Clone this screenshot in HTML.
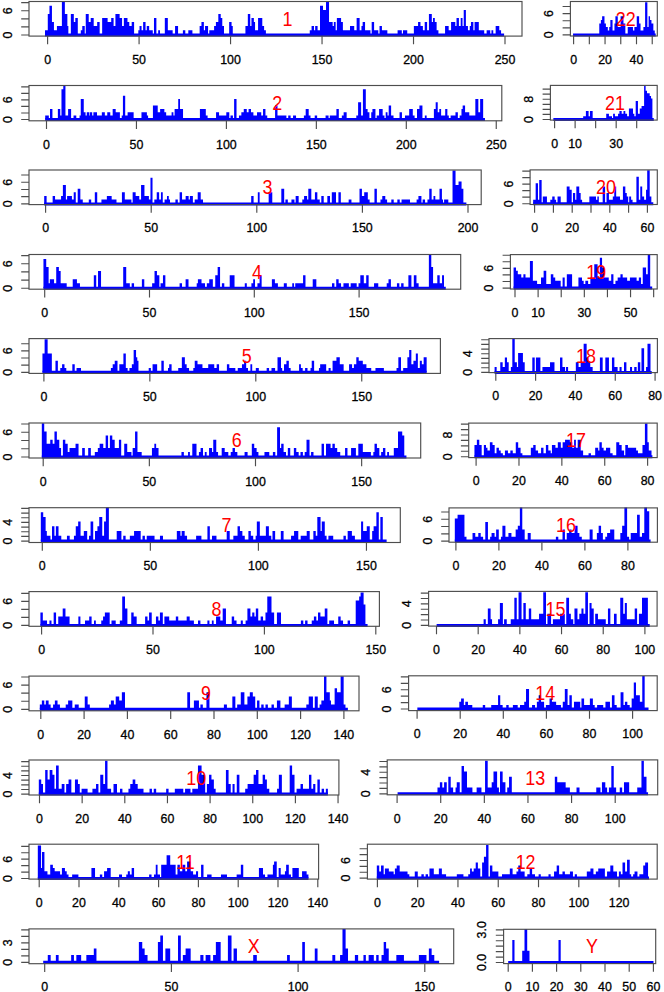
<!DOCTYPE html>
<html><head><meta charset="utf-8"><style>
html,body{margin:0;padding:0;background:#fff;}
svg{display:block;}
text{font-family:"Liberation Sans",sans-serif;font-size:12.4px;fill:#000;stroke:#000;stroke-width:0.3px;}
text.r{font-size:19.5px;fill:#ff0000;stroke:none;}
</style></head><body>
<svg width="664" height="992" viewBox="0 0 664 992">
<rect width="664" height="992" fill="#fff"/>
<g >
<g><path d="M44.99 35H47.78V30.15H44.99ZM47.78 35H49.47V13.95H47.78ZM49.47 35H51.95V5.85H49.47ZM51.95 35H53.94V22.05H51.95ZM53.94 35H56.92V30.15H53.94ZM56.92 35H61.89V26.1H56.92ZM61.89 35H64.87V1.8H61.89ZM64.87 35H67.36V13.95H64.87ZM67.36 35H68.35V26.1H67.36ZM70.84 35H73.82V13.95H70.84ZM73.82 35H75.31V22.05H73.82ZM75.31 35H77.8V18H75.31ZM80.78 35H82.27V30.15H80.78ZM82.27 35H84.75V26.1H82.27ZM85.75 35H88.73V13.95H85.75ZM88.73 35H90.72V22.05H88.73ZM90.72 35H93.7V18H90.72ZM93.7 35H97.18V26.1H93.7ZM97.18 35H99.66V22.05H97.18ZM102.15 35H107.61V18H102.15ZM107.61 35H110V22.05H107.61ZM110 35H111.2V22.05H110ZM111.2 35H113.61V18H111.2ZM113.61 35H115.42V26.1H113.61ZM115.42 35H119.64V13.95H115.42ZM119.64 35H122.05V18H119.64ZM122.05 35H123.86V26.1H122.05ZM123.86 35H127.47V18H123.86ZM127.47 35H129.28V22.05H127.47ZM129.28 35H131.69V26.1H129.28ZM131.69 35H134.1V22.05H131.69ZM138.31 35H139.52V30.15H138.31ZM139.52 35H141.57V26.1H139.52ZM141.57 35H143.13V30.15H141.57ZM143.13 35H145.54V22.05H143.13ZM145.54 35H146.75V30.15H145.54ZM146.75 35H149.16V26.1H146.75ZM149.16 35H150.36V30.15H149.16ZM150.36 35H152.77V30.15H150.36ZM153.98 35H156.39V18H153.98ZM158.19 35H160V30.15H158.19ZM164.82 35H167.83V18H164.82ZM167.83 35H170.24V30.15H167.83ZM170.24 35H172.65V30.15H170.24ZM175.06 35H178.07V26.1H175.06ZM182.89 35H185.3V30.15H182.89ZM188.31 35H190V30.15H188.31ZM190 35H192.41V30.15H190ZM199.64 35H201.45V26.1H199.64ZM201.45 35H203.86V22.05H201.45ZM203.86 35H205.06V30.15H203.86ZM205.06 35H208.07V26.1H205.06ZM209.28 35H214.1V30.15H209.28ZM214.1 35H215.9V26.1H214.1ZM215.9 35H218.31V22.05H215.9ZM218.31 35H220.72V13.95H218.31ZM220.72 35H222.29V18H220.72ZM222.29 35H223.98V26.1H222.29ZM229.16 35H231.57V22.05H229.16ZM231.57 35H232.77V26.1H231.57ZM245.42 35H247.83V26.1H245.42ZM247.83 35H250.24V13.95H247.83ZM250.24 35H251.45V26.1H250.24ZM251.45 35H253.86V18H251.45ZM253.86 35H255.06V22.05H253.86ZM255.06 35H258.07V30.15H255.06ZM258.07 35H262.29V18H258.07ZM262.29 35H264.1V26.1H262.29ZM264.1 35H265.9V30.15H264.1ZM309.76 35H311.57V30.15H309.76ZM311.57 35H313.98V26.1H311.57ZM313.98 35H315.18V30.15H313.98ZM315.18 35H317.59V26.1H315.18ZM317.59 35H320V30.15H317.59ZM320 35H323.01V5.85H320ZM323.01 35H324.82V9.9H323.01ZM324.82 35H326.02V9.9H324.82ZM326.02 35H329.04V1.8H326.02ZM329.04 35H330.24V22.05H329.04ZM330.24 35H332.65V22.05H330.24ZM332.65 35H333.86V26.1H332.65ZM333.86 35H335.66V22.05H333.86ZM335.66 35H336.87V30.15H335.66ZM336.87 35H341.08V18H336.87ZM341.08 35H342.89V22.05H341.08ZM342.89 35H344.7V30.15H342.89ZM344.7 35H347.11V30.15H344.7ZM347.11 35H350V30.15H347.11ZM350 35H354.22V26.1H350ZM354.22 35H356.63V30.15H354.22ZM356.63 35H359.64V18H356.63ZM359.64 35H361.45V30.15H359.64ZM361.45 35H362.65V26.1H361.45ZM362.65 35H365.06V22.05H362.65ZM365.06 35H368.07V30.15H365.06ZM368.07 35H370.48V30.15H368.07ZM371.69 35H374.1V22.05H371.69ZM374.1 35H375.3V30.15H374.1ZM375.3 35H378.31V30.15H375.3ZM379.52 35H381.93V26.1H379.52ZM381.93 35H383.13V30.15H381.93ZM383.13 35H387.35V30.15H383.13ZM397.59 35H401.81V30.15H397.59ZM403.01 35H407.23V30.15H403.01ZM413.86 35H418.07V26.1H413.86ZM418.07 35H420.48V22.05H418.07ZM420.48 35H422.89V26.1H420.48ZM422.89 35H424.7V30.15H422.89ZM424.7 35H427.11V22.05H424.7ZM427.11 35H428.92V30.15H427.11ZM428.92 35H430V13.95H428.92ZM430 35H431.81V13.95H430ZM431.81 35H433.01V22.05H431.81ZM433.01 35H434.82V18H433.01ZM434.82 35H436.63V22.05H434.82ZM436.63 35H438.43V30.15H436.63ZM445.06 35H448.67V26.1H445.06ZM448.67 35H451.08V30.15H448.67ZM451.08 35H455.3V22.05H451.08ZM455.3 35H456.51V26.1H455.3ZM456.51 35H458.92V18H456.51ZM458.92 35H460.72V26.1H458.92ZM460.72 35H462.53V18H460.72ZM462.53 35H463.73V26.1H462.53ZM463.73 35H465.9V9.9H463.73ZM465.9 35H467.95V26.1H465.9ZM467.95 35H469.76V30.15H467.95ZM469.76 35H470.96V26.1H469.76ZM470.96 35H473.37V22.05H470.96ZM473.37 35H474.58V30.15H473.37ZM474.58 35H478.8V22.05H474.58ZM478.8 35H481.2V30.15H478.8ZM481.2 35H484.22V30.15H481.2ZM486.63 35H490.24V30.15H486.63ZM491.45 35H493.25V30.15H491.45ZM495.66 35H499.28V26.1H495.66ZM499.28 35H501.08V30.15H499.28Z" fill="#0000ff"/><path d="M44.99 35H504.1" stroke="#0000ff" stroke-width="3.0"/><rect x="29" y="1.5" width="493" height="34.6" fill="none" stroke="#4d4d4d" stroke-width="1.15"/><path d="M21.2 35H29M21.2 26.9H29M21.2 18.8H29M21.2 10.7H29M21.2 2.6H29M47.6 36.1V44.3M139.08 36.1V44.3M230.56 36.1V44.3M322.04 36.1V44.3M413.52 36.1V44.3M505 36.1V44.3" stroke="#4d4d4d" stroke-width="1.15" fill="none"/><text transform="translate(7.6 35) rotate(-90)" text-anchor="middle" y="4.2">0</text><text transform="translate(7.6 10.7) rotate(-90)" text-anchor="middle" y="4.2">6</text><text x="47.6" y="63.8" text-anchor="middle">0</text><text x="139.08" y="63.8" text-anchor="middle">50</text><text x="230.56" y="63.8" text-anchor="middle">100</text><text x="322.04" y="63.8" text-anchor="middle">150</text><text x="413.52" y="63.8" text-anchor="middle">200</text><text x="505" y="63.8" text-anchor="middle">250</text><text transform="translate(287.5 25.7) scale(0.92 1)" text-anchor="middle" class="r">1</text></g>
<g><path d="M45.2 119.5H48.82V115.43H45.2ZM50.02 119.5H52.43V108.89H50.02ZM57.86 119.5H60.27V108.89H57.86ZM60.27 119.5H61.47V115.43H60.27ZM61.47 119.5H63.28V89.27H61.47ZM63.28 119.5H65.45V86H63.28ZM65.45 119.5H68.1V115.43H65.45ZM68.1 119.5H71.11V108.89H68.1ZM73.52 119.5H76.29V115.43H73.52ZM79.54 119.5H80.75V115.43H79.54ZM80.75 119.5H83.76V99.08H80.75ZM83.76 119.5H85.57V112.16H83.76ZM85.57 119.5H86.77V115.43H85.57ZM86.77 119.5H89.18V112.16H86.77ZM89.18 119.5H89.78V115.43H89.18ZM89.78 119.5H92.19V112.16H89.78ZM92.19 119.5H93.4V115.43H92.19ZM93.4 119.5H97.01V112.16H93.4ZM97.01 119.5H98.82V115.43H97.01ZM98.82 119.5H101.83V115.43H98.82ZM101.83 119.5H104.84V112.16H101.83ZM104.84 119.5H107.25V115.43H104.84ZM107.25 119.5H110.27V112.16H107.25ZM110.27 119.5H112.67V115.43H110.27ZM112.67 119.5H115.69V108.89H112.67ZM115.69 119.5H117.49V112.16H115.69ZM117.49 119.5H119.9V112.16H117.49ZM121.71 119.5H122.92V115.43H121.71ZM122.92 119.5H124V95.81H122.92ZM124 119.5H125.2V95.81H124ZM125.2 119.5H127.61V115.43H125.2ZM127.61 119.5H133.64V112.16H127.61ZM141.47 119.5H146.89V112.16H141.47ZM146.89 119.5H148.1V115.43H146.89ZM152.92 119.5H157.73V105.62H152.92ZM157.73 119.5H160.14V112.16H157.73ZM160.14 119.5H164.36V108.89H160.14ZM164.36 119.5H166.17V112.16H164.36ZM166.17 119.5H167.98V115.43H166.17ZM167.98 119.5H171.59V115.43H167.98ZM171.59 119.5H173.4V112.16H171.59ZM173.4 119.5H174.6V115.43H173.4ZM174.6 119.5H178.22V108.89H174.6ZM178.22 119.5H180.02V99.08H178.22ZM180.02 119.5H183.04V108.89H180.02ZM199.9 119.5H202.31V108.89H199.9ZM202.31 119.5H204V108.89H202.31ZM204 119.5H205.81V108.89H204ZM205.81 119.5H207.61V115.43H205.81ZM216.05 119.5H219.06V112.16H216.05ZM219.06 119.5H226.29V115.43H219.06ZM226.29 119.5H229.3V112.16H226.29ZM230.51 119.5H232.92V115.43H230.51ZM234.12 119.5H236.53V99.08H234.12ZM238.94 119.5H241.35V115.43H238.94ZM241.35 119.5H243.76V112.16H241.35ZM243.76 119.5H245.57V108.89H243.76ZM245.57 119.5H246.77V108.89H245.57ZM246.77 119.5H248.58V112.16H246.77ZM248.58 119.5H250.99V108.89H248.58ZM250.99 119.5H253.4V112.16H250.99ZM253.4 119.5H257.01V115.43H253.4ZM257.01 119.5H261.23V112.16H257.01ZM261.23 119.5H263.04V115.43H261.23ZM263.04 119.5H265.45V108.89H263.04ZM265.45 119.5H267.25V115.43H265.45ZM275.08 119.5H277.49V105.62H275.08ZM277.49 119.5H279.9V115.43H277.49ZM279.9 119.5H284V115.43H279.9ZM284 119.5H286.41V115.43H284ZM288.22 119.5H290.63V115.43H288.22ZM293.04 119.5H296.05V115.43H293.04ZM303.88 119.5H305.69V115.43H303.88ZM305.69 119.5H308.7V108.89H305.69ZM308.7 119.5H310.51V115.43H308.7ZM314.72 119.5H317.13V115.43H314.72ZM325.57 119.5H328.58V115.43H325.57ZM329.78 119.5H336.41V115.43H329.78ZM336.41 119.5H338.82V108.89H336.41ZM341.83 119.5H343.64V115.43H341.83ZM343.64 119.5H346.65V112.16H343.64ZM356.29 119.5H358.1V115.43H356.29ZM358.1 119.5H361.11V102.35H358.1ZM361.11 119.5H362.92V115.43H361.11ZM362.92 119.5H364V89.27H362.92ZM364 119.5H365.81V89.27H364ZM365.81 119.5H367.61V108.89H365.81ZM367.61 119.5H369.42V112.16H367.61ZM371.23 119.5H372.43V112.16H371.23ZM372.43 119.5H375.45V108.89H372.43ZM376.65 119.5H379.06V115.43H376.65ZM379.06 119.5H382.67V108.89H379.06ZM382.67 119.5H384.48V115.43H382.67ZM385.69 119.5H387.49V112.16H385.69ZM387.49 119.5H388.7V115.43H387.49ZM388.7 119.5H391.11V105.62H388.7ZM391.11 119.5H393.52V115.43H391.11ZM399.54 119.5H401.95V112.16H399.54ZM404.96 119.5H409.18V115.43H404.96ZM409.18 119.5H412.8V108.89H409.18ZM412.8 119.5H414.6V115.43H412.8ZM417.01 119.5H419.42V108.89H417.01ZM419.42 119.5H422.43V105.62H419.42ZM424.84 119.5H426.65V115.43H424.84ZM433.88 119.5H435.69V108.89H433.88ZM435.69 119.5H437.73V102.35H435.69ZM437.73 119.5H439.3V112.16H437.73ZM439.3 119.5H441.11V108.89H439.3ZM441.11 119.5H444V115.43H441.11ZM444 119.5H445.2V115.43H444ZM445.2 119.5H447.37V108.89H445.2ZM447.37 119.5H448.82V115.43H447.37ZM450.63 119.5H455.45V115.43H450.63ZM455.45 119.5H457.86V112.16H455.45ZM459.66 119.5H461.47V115.43H459.66ZM461.47 119.5H462.67V108.89H461.47ZM462.67 119.5H465.08V105.62H462.67ZM465.08 119.5H467.49V112.16H465.08ZM467.49 119.5H469.3V112.16H467.49ZM469.3 119.5H471.71V115.43H469.3ZM471.71 119.5H475.33V115.43H471.71ZM475.33 119.5H478.34V99.08H475.33ZM478.34 119.5H480.14V112.16H478.34ZM480.14 119.5H483.16V99.08H480.14Z" fill="#0000ff"/><path d="M45.2 119.5H484.96" stroke="#0000ff" stroke-width="3.0"/><rect x="29" y="85.5" width="472.8" height="35.3" fill="none" stroke="#4d4d4d" stroke-width="1.15"/><path d="M21.2 119.5H29M21.2 112.96H29M21.2 106.42H29M21.2 99.88H29M21.2 93.34H29M21.2 86.8H29M46.5 120.8V129M136.45 120.8V129M226.4 120.8V129M316.35 120.8V129M406.3 120.8V129M496.25 120.8V129" stroke="#4d4d4d" stroke-width="1.15" fill="none"/><text transform="translate(7.6 119.5) rotate(-90)" text-anchor="middle" y="4.2">0</text><text transform="translate(7.6 99.88) rotate(-90)" text-anchor="middle" y="4.2">6</text><text x="46.5" y="148.5" text-anchor="middle">0</text><text x="136.45" y="148.5" text-anchor="middle">50</text><text x="226.4" y="148.5" text-anchor="middle">100</text><text x="316.35" y="148.5" text-anchor="middle">150</text><text x="406.3" y="148.5" text-anchor="middle">200</text><text x="496.25" y="148.5" text-anchor="middle">250</text><text transform="translate(277.2 110) scale(0.92 1)" text-anchor="middle" class="r">2</text></g>
<g><path d="M44.2 203.9H46.61V195.88H44.2ZM52.64 203.9H55.05V195.88H52.64ZM55.05 203.9H56.86V199.49H55.05ZM56.86 203.9H58.66V199.49H56.86ZM58.66 203.9H61.07V199.49H58.66ZM61.07 203.9H62.88V195.88H61.07ZM62.88 203.9H65.89V185.05H62.88ZM65.89 203.9H67.1V199.49H65.89ZM67.1 203.9H71.92V195.88H67.1ZM71.92 203.9H73.72V199.49H71.92ZM73.72 203.9H75.77V192.27H73.72ZM77.7 203.9H80.35V188.66H77.7ZM80.35 203.9H82.76V199.49H80.35ZM88.78 203.9H91.19V199.49H88.78ZM94.81 203.9H97.22V192.27H94.81ZM101.43 203.9H106.86V199.49H101.43ZM106.86 203.9H111.67V195.88H106.86ZM111.67 203.9H116.49V199.49H111.67ZM121.92 203.9H123V192.27H121.92ZM123 203.9H124.81V192.27H123ZM124.81 203.9H127.22V199.49H124.81ZM127.22 203.9H131.43V199.49H127.22ZM132.64 203.9H135.65V192.27H132.64ZM135.65 203.9H137.46V195.88H135.65ZM137.46 203.9H139.27V195.88H137.46ZM139.27 203.9H141.07V199.49H139.27ZM141.07 203.9H144.45V185.05H141.07ZM144.45 203.9H148.9V195.88H144.45ZM148.9 203.9H150.47V199.49H148.9ZM150.47 203.9H152.52V177.83H150.47ZM154.33 203.9H156.73V199.49H154.33ZM156.73 203.9H159.14V192.27H156.73ZM159.14 203.9H160.95V199.49H159.14ZM160.95 203.9H162.76V192.27H160.95ZM164.57 203.9H166.98V199.49H164.57ZM166.98 203.9H168.78V195.88H166.98ZM168.78 203.9H169.99V199.49H168.78ZM175.41 203.9H177.82V199.49H175.41ZM179.63 203.9H182.04V192.27H179.63ZM182.04 203.9H185.65V199.49H182.04ZM185.65 203.9H188.66V195.88H185.65ZM188.66 203.9H189.87V199.49H188.66ZM189.87 203.9H192.88V195.88H189.87ZM194.69 203.9H197.7V199.49H194.69ZM197.7 203.9H200.71V192.27H197.7ZM200.71 203.9H203V199.49H200.71ZM251.19 203.9H253.6V195.88H251.19ZM257.82 203.9H259.63V192.27H257.82ZM268.66 203.9H272.28V192.27H268.66ZM281.31 203.9H283V188.66H281.31ZM283 203.9H284.2V188.66H283ZM285.41 203.9H287.82V199.49H285.41ZM291.43 203.9H294.45V199.49H291.43ZM295.65 203.9H298.66V195.88H295.65ZM302.28 203.9H304.08V199.49H302.28ZM304.08 203.9H307.1V195.88H304.08ZM307.1 203.9H308.3V199.49H307.1ZM308.3 203.9H311.31V188.66H308.3ZM311.31 203.9H313.12V199.49H311.31ZM313.12 203.9H314.93V199.49H313.12ZM314.93 203.9H317.34V192.27H314.93ZM317.34 203.9H319.75V199.49H317.34ZM321.31 203.9H323.72V195.88H321.31ZM327.34 203.9H329.99V195.88H327.34ZM331.8 203.9H336.01V192.27H331.8ZM338.42 203.9H340.83V192.27H338.42ZM348.66 203.9H351.43V199.49H348.66ZM359.51 203.9H361.92V188.66H359.51ZM361.92 203.9H363V195.88H361.92ZM363 203.9H364.2V195.88H363ZM364.2 203.9H367.82V192.27H364.2ZM367.82 203.9H369.63V199.49H367.82ZM374.45 203.9H376.86V188.66H374.45ZM380.47 203.9H382.28V199.49H380.47ZM382.28 203.9H385.29V195.88H382.28ZM385.29 203.9H387.1V199.49H385.29ZM391.31 203.9H393.72V199.49H391.31ZM397.34 203.9H399.75V199.49H397.34ZM401.55 203.9H409.99V199.49H401.55ZM416.61 203.9H418.42V199.49H416.61ZM418.42 203.9H421.43V195.88H418.42ZM422.64 203.9H425.05V199.49H422.64ZM427.46 203.9H429.27V199.49H427.46ZM429.27 203.9H431.67V188.66H429.27ZM431.67 203.9H433.48V199.49H431.67ZM433.48 203.9H435.29V195.88H433.48ZM435.29 203.9H439.51V199.49H435.29ZM439.51 203.9H441.92V188.66H439.51ZM441.92 203.9H443V199.49H441.92ZM444.1 203.9H448.31V199.49H444.1ZM452.53 203.9H455.54V170.61H452.53ZM455.54 203.9H458.55V185.05H455.54ZM458.55 203.9H461.57V181.44H458.55ZM461.57 203.9H463.37V188.66H461.57Z" fill="#0000ff"/><path d="M44.2 203.9H466.39" stroke="#0000ff" stroke-width="3.0"/><rect x="29" y="170" width="452.2" height="34.6" fill="none" stroke="#4d4d4d" stroke-width="1.15"/><path d="M21.2 203.9H29M21.2 196.68H29M21.2 189.46H29M21.2 182.24H29M21.2 175.02H29M45.6 204.6V212.8M151.2 204.6V212.8M256.8 204.6V212.8M362.4 204.6V212.8M468 204.6V212.8" stroke="#4d4d4d" stroke-width="1.15" fill="none"/><text transform="translate(7.6 203.9) rotate(-90)" text-anchor="middle" y="4.2">0</text><text transform="translate(7.6 182.24) rotate(-90)" text-anchor="middle" y="4.2">6</text><text x="45.6" y="232.3" text-anchor="middle">0</text><text x="151.2" y="232.3" text-anchor="middle">50</text><text x="256.8" y="232.3" text-anchor="middle">100</text><text x="362.4" y="232.3" text-anchor="middle">150</text><text x="468" y="232.3" text-anchor="middle">200</text><text transform="translate(267.6 194.4) scale(0.92 1)" text-anchor="middle" class="r">3</text></g>
<g><path d="M43.45 288.2H46.22V258.88H43.45ZM46.22 288.2H48.63V267.02H46.22ZM48.63 288.2H49.83V283.32H48.63ZM49.83 288.2H54.05V279.25H49.83ZM54.05 288.2H56.22V283.32H54.05ZM56.22 288.2H58.87V267.02H56.22ZM58.87 288.2H60.67V271.1H58.87ZM60.67 288.2H66.7V283.32H60.67ZM72.72 288.2H76.94V279.25H72.72ZM76.94 288.2H79.95V283.32H76.94ZM93.81 288.2H96.22V275.17H93.81ZM98.02 288.2H101.04V271.1H98.02ZM123.2 288.2H126.22V267.02H123.2ZM126.22 288.2H129.83V283.32H126.22ZM131.64 288.2H134.05V283.32H131.64ZM141.88 288.2H144.29V279.25H141.88ZM152.12 288.2H154.53V283.32H152.12ZM154.53 288.2H156.94V271.1H154.53ZM156.94 288.2H159.35V275.17H156.94ZM160.55 288.2H162.96V283.32H160.55ZM162.96 288.2H165.37V275.17H162.96ZM179.59 288.2H182V283.32H179.59ZM185.61 288.2H188.51V279.25H185.61ZM196.7 288.2H197.9V283.32H196.7ZM197.9 288.2H201.52V279.25H197.9ZM201.52 288.2H202V283.32H201.52ZM202 288.2H205.01V283.32H202ZM206.82 288.2H209.23V283.32H206.82ZM209.23 288.2H212.84V279.25H209.23ZM215.25 288.2H217.66V275.17H215.25ZM217.66 288.2H220.07V267.02H217.66ZM221.88 288.2H224.29V283.32H221.88ZM229.71 288.2H234.53V275.17H229.71ZM244.77 288.2H246.82V283.32H244.77ZM251.4 288.2H253.2V283.32H251.4ZM253.2 288.2H255.01V279.25H253.2ZM257.42 288.2H259.59V283.32H257.42ZM259.59 288.2H261.64V275.17H259.59ZM271.88 288.2H274.89V279.25H271.88ZM274.89 288.2H277.9V283.32H274.89ZM283.81 288.2H286.82V283.32H283.81ZM292.24 288.2H294.05V283.32H292.24ZM295.25 288.2H303.08V283.32H295.25ZM303.08 288.2H305.49V275.17H303.08ZM312.72 288.2H316.34V279.25H312.72ZM332 288.2H334.41V283.32H332ZM336.22 288.2H338.63V279.25H336.22ZM338.63 288.2H341.04V283.32H338.63ZM343.45 288.2H348.87V283.32H343.45ZM350.67 288.2H356.7V283.32H350.67ZM358.51 288.2H360.31V283.32H358.51ZM360.31 288.2H362V275.17H360.31ZM362 288.2H363.81V275.17H362ZM363.81 288.2H366.22V283.32H363.81ZM366.22 288.2H368.63V275.17H366.22ZM374.05 288.2H378.27V283.32H374.05ZM386.7 288.2H388.51V283.32H386.7ZM388.51 288.2H390.92V279.25H388.51ZM396.94 288.2H399.35V283.32H396.94ZM401.16 288.2H403.57V283.32H401.16ZM408.39 288.2H411.4V275.17H408.39ZM413.81 288.2H416.46V275.17H413.81ZM416.46 288.2H418.63V283.32H416.46ZM428.87 288.2H431.28V254.8H428.87ZM431.28 288.2H433.08V267.02H431.28ZM433.08 288.2H437.3V283.32H433.08ZM437.3 288.2H439.71V275.17H437.3ZM439.71 288.2H442V283.32H439.71ZM442.05 288.2H443.98V275.17H442.05Z" fill="#0000ff"/><path d="M43.45 288.2H445.78" stroke="#0000ff" stroke-width="3.0"/><rect x="29" y="254.5" width="431.7" height="34.7" fill="none" stroke="#4d4d4d" stroke-width="1.15"/><path d="M21.2 288.2H29M21.2 280.05H29M21.2 271.9H29M21.2 263.75H29M21.2 255.6H29M44.7 289.2V297.4M149.5 289.2V297.4M254.3 289.2V297.4M359.1 289.2V297.4" stroke="#4d4d4d" stroke-width="1.15" fill="none"/><text transform="translate(7.6 288.2) rotate(-90)" text-anchor="middle" y="4.2">0</text><text transform="translate(7.6 263.75) rotate(-90)" text-anchor="middle" y="4.2">6</text><text x="44.7" y="316.9" text-anchor="middle">0</text><text x="149.5" y="316.9" text-anchor="middle">50</text><text x="254.3" y="316.9" text-anchor="middle">100</text><text x="359.1" y="316.9" text-anchor="middle">150</text><text transform="translate(257 278.7) scale(0.92 1)" text-anchor="middle" class="r">4</text></g>
<g><path d="M42.45 372.3H44.61V353.62H42.45ZM44.61 372.3H47.63V339.32H44.61ZM47.63 372.3H51.84V353.62H47.63ZM55.46 372.3H57.87V360.77H55.46ZM60.28 372.3H62.08V367.93H60.28ZM62.08 372.3H64.49V364.35H62.08ZM64.49 372.3H66.3V367.93H64.49ZM72.33 372.3H74.73V364.35H72.33ZM76.54 372.3H81V367.93H76.54ZM110.88 372.3H112.69V367.93H110.88ZM112.69 372.3H114.73V364.35H112.69ZM114.73 372.3H117.51V360.77H114.73ZM119.31 372.3H121V364.35H119.31ZM121 372.3H123.41V364.35H121ZM123.41 372.3H125.82V353.62H123.41ZM125.82 372.3H127.63V367.93H125.82ZM129.43 372.3H131.84V367.93H129.43ZM131.84 372.3H133.65V364.35H131.84ZM133.65 372.3H136.06V350.05H133.65ZM136.06 372.3H137.27V357.2H136.06ZM137.27 372.3H138.47V360.77H137.27ZM148.71 372.3H150.88V367.93H148.71ZM152.57 372.3H157.14V364.35H152.57ZM161.36 372.3H163.77V360.77H161.36ZM167.99 372.3H169.19V367.93H167.99ZM169.19 372.3H171.6V364.35H169.19ZM178.23 372.3H181.84V367.93H178.23ZM181.84 372.3H184.86V357.2H181.84ZM184.86 372.3H186.66V364.35H184.86ZM186.66 372.3H189.07V367.93H186.66ZM193.29 372.3H194.73V367.93H193.29ZM194.73 372.3H197.51V360.77H194.73ZM197.51 372.3H201V364.35H197.51ZM201 372.3H202.45V364.35H201ZM202.45 372.3H204.01V367.93H202.45ZM204.01 372.3H206.42V367.93H204.01ZM206.42 372.3H208.23V367.93H206.42ZM208.23 372.3H214.25V364.35H208.23ZM214.25 372.3H216.66V367.93H214.25ZM216.66 372.3H219.07V364.35H216.66ZM226.9 372.3H229.31V364.35H226.9ZM229.31 372.3H235.34V367.93H229.31ZM237.75 372.3H241.96V367.93H237.75ZM241.96 372.3H244.13V364.35H241.96ZM244.13 372.3H246.18V360.77H244.13ZM246.18 372.3H247.99V367.93H246.18ZM250.4 372.3H252.2V364.35H250.4ZM255.82 372.3H258.83V367.93H255.82ZM266.66 372.3H269.07V367.93H266.66ZM271.48 372.3H275.1V367.93H271.48ZM277.51 372.3H281V357.2H277.51ZM281 372.3H282.2V367.93H281ZM284.01 372.3H286.42V364.35H284.01ZM286.42 372.3H288.83V360.77H286.42ZM288.83 372.3H290.64V367.93H288.83ZM299.07 372.3H300.88V364.35H299.07ZM300.88 372.3H302.69V367.93H300.88ZM305.1 372.3H307.51V367.93H305.1ZM310.52 372.3H311.72V367.93H310.52ZM311.72 372.3H314.13V360.77H311.72ZM318.95 372.3H320.16V367.93H318.95ZM320.16 372.3H326.18V364.35H320.16ZM328.59 372.3H330.64V367.93H328.59ZM332.57 372.3H336.42V360.77H332.57ZM336.42 372.3H339.8V357.2H336.42ZM339.8 372.3H343.65V364.35H339.8ZM349.07 372.3H352.08V364.35H349.07ZM352.08 372.3H353.89V367.93H352.08ZM353.89 372.3H356.3V364.35H353.89ZM356.3 372.3H358.71V357.2H356.3ZM358.71 372.3H361V360.77H358.71ZM361 372.3H362.81V360.77H361ZM362.81 372.3H366.42V364.35H362.81ZM366.42 372.3H371.24V367.93H366.42ZM375.46 372.3H383.89V367.93H375.46ZM396.54 372.3H398.35V367.93H396.54ZM398.35 372.3H401V357.2H398.35ZM403.17 372.3H407.39V367.93H403.17ZM407.39 372.3H409.19V357.2H407.39ZM409.19 372.3H411.36V350.05H409.19ZM411.36 372.3H413.41V364.35H411.36ZM413.41 372.3H415.82V360.77H413.41ZM415.82 372.3H417.87V353.62H415.82ZM417.87 372.3H419.8V367.93H417.87ZM419.8 372.3H421.84V360.77H419.8ZM421.84 372.3H423.65V364.35H421.84ZM423.65 372.3H426.66V357.2H423.65Z" fill="#0000ff"/><path d="M42.45 372.3H426.66" stroke="#0000ff" stroke-width="3.0"/><rect x="29" y="338.6" width="411.4" height="34.8" fill="none" stroke="#4d4d4d" stroke-width="1.15"/><path d="M21.2 372.3H29M21.2 365.15H29M21.2 358H29M21.2 350.85H29M21.2 343.7H29M43.9 373.4V381.6M149.85 373.4V381.6M255.8 373.4V381.6M361.75 373.4V381.6" stroke="#4d4d4d" stroke-width="1.15" fill="none"/><text transform="translate(7.6 372.3) rotate(-90)" text-anchor="middle" y="4.2">0</text><text transform="translate(7.6 350.85) rotate(-90)" text-anchor="middle" y="4.2">6</text><text x="43.9" y="401.1" text-anchor="middle">0</text><text x="149.85" y="401.1" text-anchor="middle">50</text><text x="255.8" y="401.1" text-anchor="middle">100</text><text x="361.75" y="401.1" text-anchor="middle">150</text><text transform="translate(246.8 363.1) scale(0.92 1)" text-anchor="middle" class="r">5</text></g>
<g><path d="M41.81 457H44.22V423.2H41.81ZM44.22 457H46.63V431.45H44.22ZM46.63 457H50.24V443.82H46.63ZM50.24 457H52.65V439.7H50.24ZM52.65 457H54.46V443.82H52.65ZM54.46 457H56.87V431.45H54.46ZM56.87 457H59.28V439.7H56.87ZM59.28 457H61.08V447.95H59.28ZM62.89 457H65.3V439.7H62.89ZM65.3 457H67.71V443.82H65.3ZM67.71 457H69.52V452.07H67.71ZM69.52 457H75.54V447.95H69.52ZM75.54 457H78.55V443.82H75.54ZM82.17 457H84.82V447.95H82.17ZM88.19 457H90.84V447.95H88.19ZM94.82 457H97.83V452.07H94.82ZM97.83 457H99.64V447.95H97.83ZM99.64 457H103.25V443.82H99.64ZM103.25 457H105.66V447.95H103.25ZM105.66 457H108.07V435.57H105.66ZM108.07 457H109.88V447.95H108.07ZM109.88 457H112.29V435.57H109.88ZM112.29 457H114.7V439.7H112.29ZM114.7 457H118.92V447.95H114.7ZM118.92 457H120V439.7H118.92ZM120 457H121.2V439.7H120ZM124.22 457H127.23V443.82H124.22ZM127.23 457H131.45V452.07H127.23ZM132.65 457H135.06V447.95H132.65ZM135.06 457H137.47V431.45H135.06ZM137.47 457H141.69V452.07H137.47ZM151.93 457H154.34V447.95H151.93ZM154.34 457H156.14V443.82H154.34ZM156.14 457H158.55V447.95H156.14ZM181.45 457H183.86V452.07H181.45ZM188.07 457H189.88V452.07H188.07ZM192.29 457H196.51V443.82H192.29ZM198.92 457H200V452.07H198.92ZM200 457H200.6V452.07H200ZM200.6 457H203.01V447.95H200.6ZM204.82 457H206.63V452.07H204.82ZM209.04 457H212.05V447.95H209.04ZM212.05 457H213.25V452.07H212.05ZM213.25 457H216.27V439.7H213.25ZM216.27 457H218.07V452.07H216.27ZM221.69 457H224.7V447.95H221.69ZM224.7 457H228.31V452.07H224.7ZM230.72 457H232.53V452.07H230.72ZM232.53 457H234.94V447.95H232.53ZM234.94 457H237.35V452.07H234.94ZM244.58 457H247.59V452.07H244.58ZM251.81 457H254.22V443.82H251.81ZM254.22 457H256.63V447.95H254.22ZM256.63 457H258.43V452.07H256.63ZM264.46 457H269.28V452.07H264.46ZM272.89 457H275.3V452.07H272.89ZM277.11 457H280V427.32H277.11ZM280 457H281.2V447.95H280ZM281.2 457H283.61V443.82H281.2ZM283.61 457H286.02V452.07H283.61ZM287.83 457H290.24V447.95H287.83ZM293.86 457H296.27V447.95H293.86ZM296.27 457H298.67V452.07H296.27ZM300.48 457H302.89V452.07H300.48ZM304.7 457H306.51V452.07H304.7ZM306.51 457H309.52V439.7H306.51ZM311.08 457H313.49V452.07H311.08ZM321.57 457H323.98V443.82H321.57ZM326.02 457H330.6V443.82H326.02ZM330.6 457H332.41V447.95H330.6ZM332.41 457H334.82V443.82H332.41ZM334.82 457H337.23V447.95H334.82ZM337.23 457H340.24V452.07H337.23ZM345.06 457H347.47V447.95H345.06ZM351.08 457H355.9V447.95H351.08ZM358.31 457H360V443.82H358.31ZM359.94 457H362.83V443.82H359.94ZM362.83 457H366.08V452.07H362.83ZM366.08 457H367.89V452.07H366.08ZM367.89 457H370.9V452.07H367.89ZM373.31 457H374.52V452.07H373.31ZM374.52 457H376.93V443.82H374.52ZM376.93 457H379.34V447.95H376.93ZM381.14 457H382.95V452.07H381.14ZM382.95 457H385.36V447.95H382.95ZM387.17 457H388.98V452.07H387.17ZM393.8 457H398.01V447.95H393.8ZM398.01 457H402.23V431.45H398.01ZM402.23 457H404.28V435.57H402.23Z" fill="#0000ff"/><path d="M41.81 457H406.45" stroke="#0000ff" stroke-width="3.0"/><rect x="29" y="423" width="391.7" height="35" fill="none" stroke="#4d4d4d" stroke-width="1.15"/><path d="M21.2 457H29M21.2 448.75H29M21.2 440.5H29M21.2 432.25H29M21.2 424H29M43.2 458V466.2M149.35 458V466.2M255.5 458V466.2M361.65 458V466.2" stroke="#4d4d4d" stroke-width="1.15" fill="none"/><text transform="translate(7.6 457) rotate(-90)" text-anchor="middle" y="4.2">0</text><text transform="translate(7.6 432.25) rotate(-90)" text-anchor="middle" y="4.2">6</text><text x="43.2" y="485.7" text-anchor="middle">0</text><text x="149.35" y="485.7" text-anchor="middle">50</text><text x="255.5" y="485.7" text-anchor="middle">100</text><text x="361.65" y="485.7" text-anchor="middle">150</text><text transform="translate(236.7 447.4) scale(0.92 1)" text-anchor="middle" class="r">6</text></g>
<g><path d="M40.81 541.1H43.22V512.28H40.81ZM43.22 541.1H45.63V516.95H43.22ZM45.63 541.1H46.83V530.96H45.63ZM46.83 541.1H48.64V535.63H46.83ZM48.64 541.1H50.45V535.63H48.64ZM52.01 541.1H54.42V526.29H52.01ZM54.42 541.1H55.87V535.63H54.42ZM55.87 541.1H58.52V526.29H55.87ZM58.52 541.1H61.29V535.63H58.52ZM66.95 541.1H69.72V535.63H66.95ZM73.94 541.1H75.75V535.63H73.94ZM75.75 541.1H78.16V526.29H75.75ZM78.16 541.1H80.57V521.62H78.16ZM80.57 541.1H83.82V535.63H80.57ZM83.82 541.1H87.19V530.96H83.82ZM89 541.1H90.57V535.63H89ZM90.57 541.1H93.22V521.62H90.57ZM95.02 541.1H97.43V530.96H95.02ZM97.43 541.1H99.24V526.29H97.43ZM99.24 541.1H102.25V516.95H99.24ZM102.25 541.1H104.06V535.63H102.25ZM104.06 541.1H105.87V521.62H104.06ZM105.87 541.1H108.88V507.61H105.87ZM116.71 541.1H119V530.96H116.71ZM119 541.1H121.41V530.96H119ZM123.22 541.1H125.63V535.63H123.22ZM129.84 541.1H134.06V535.63H129.84ZM134.06 541.1H140.69V530.96H134.06ZM142.49 541.1H144.9V535.63H142.49ZM146.71 541.1H154.54V535.63H146.71ZM159.96 541.1H162.98V535.63H159.96ZM176.83 541.1H180.45V530.96H176.83ZM180.45 541.1H181.65V535.63H180.45ZM181.65 541.1H184.66V530.96H181.65ZM184.66 541.1H187.07V535.63H184.66ZM196.11 541.1H199V535.63H196.11ZM199 541.1H201.41V535.63H199ZM207.43 541.1H209.84V526.29H207.43ZM212.01 541.1H216.47V535.63H212.01ZM226.71 541.1H229.72V530.96H226.71ZM233.34 541.1H237.55V535.63H233.34ZM237.55 541.1H239.96V526.29H237.55ZM239.96 541.1H242.37V530.96H239.96ZM242.37 541.1H244.78V535.63H242.37ZM248.4 541.1H250.81V530.96H248.4ZM250.81 541.1H253.22V535.63H250.81ZM255.63 541.1H256.83V535.63H255.63ZM256.83 541.1H259.84V521.62H256.83ZM259.84 541.1H261.65V535.63H259.84ZM261.65 541.1H265.87V535.63H261.65ZM265.87 541.1H268.88V526.29H265.87ZM268.88 541.1H271.29V535.63H268.88ZM272.49 541.1H275.14V530.96H272.49ZM280.81 541.1H283.58V530.96H280.81ZM291.05 541.1H294.06V535.63H291.05ZM294.06 541.1H298.28V530.96H294.06ZM300.69 541.1H306.71V535.63H300.69ZM306.71 541.1H309.72V530.96H306.71ZM313.34 541.1H315.75V530.96H313.34ZM315.75 541.1H317.31V535.63H315.75ZM317.31 541.1H320.57V516.95H317.31ZM320.57 541.1H321.77V530.96H320.57ZM321.77 541.1H324.78V521.62H321.77ZM324.78 541.1H326.59V535.63H324.78ZM328.4 541.1H333.22V535.63H328.4ZM343.46 541.1H345.87V535.63H343.46ZM347.67 541.1H351.89V530.96H347.67ZM351.89 541.1H354.9V535.63H351.89ZM361.08 541.1H363.13V521.62H361.08ZM363.13 541.1H364.34V530.96H363.13ZM364.34 541.1H366.75V530.96H364.34ZM366.75 541.1H369.76V526.29H366.75ZM372.17 541.1H373.61V530.96H372.17ZM373.61 541.1H376.39V526.29H373.61ZM376.39 541.1H378.8V512.28H376.39ZM380.36 541.1H382.77V516.95H380.36Z" fill="#0000ff"/><path d="M40.81 541.1H386.63" stroke="#0000ff" stroke-width="3.0"/><rect x="29" y="507.7" width="371.3" height="34.8" fill="none" stroke="#4d4d4d" stroke-width="1.15"/><path d="M21.2 541.1H29M21.2 536.43H29M21.2 531.76H29M21.2 527.09H29M21.2 522.42H29M21.2 517.75H29M21.2 513.08H29M21.2 508.41H29M42.3 542.5V550.7M150.35 542.5V550.7M258.4 542.5V550.7M366.45 542.5V550.7" stroke="#4d4d4d" stroke-width="1.15" fill="none"/><text transform="translate(7.6 541.1) rotate(-90)" text-anchor="middle" y="4.2">0</text><text transform="translate(7.6 522.42) rotate(-90)" text-anchor="middle" y="4.2">4</text><text x="42.3" y="570.2" text-anchor="middle">0</text><text x="150.35" y="570.2" text-anchor="middle">50</text><text x="258.4" y="570.2" text-anchor="middle">100</text><text x="366.45" y="570.2" text-anchor="middle">150</text><text transform="translate(226.6 531.7) scale(0.92 1)" text-anchor="middle" class="r">7</text></g>
<g><path d="M40.41 625.4H42.82V612.57H40.41ZM42.82 625.4H44.63V620.59H42.82ZM44.63 625.4H47.04V620.59H44.63ZM49.45 625.4H51.49V620.59H49.45ZM53.66 625.4H56.07V612.57H53.66ZM58.24 625.4H62.7V616.58H58.24ZM62.7 625.4H65.47V608.56H62.7ZM65.47 625.4H69.57V616.58H65.47ZM78.36 625.4H80.41V616.58H78.36ZM84.99 625.4H89.2V620.59H84.99ZM89.2 625.4H91.61V616.58H89.2ZM94.02 625.4H95.83V620.59H94.02ZM101.25 625.4H103.06V620.59H101.25ZM103.06 625.4H104.87V616.58H103.06ZM104.87 625.4H109.69V612.57H104.87ZM111.49 625.4H115.71V620.59H111.49ZM119.81 625.4H122.22V620.59H119.81ZM122.22 625.4H124.99V596.53H122.22ZM124.99 625.4H127.4V608.56H124.99ZM131.25 625.4H133.66V612.57H131.25ZM133.66 625.4H136.67V616.58H133.66ZM145.11 625.4H147.52V616.58H145.11ZM147.52 625.4H149.08V620.59H147.52ZM149.08 625.4H151.73V612.57H149.08ZM155.95 625.4H158.36V616.58H155.95ZM158.36 625.4H159.93V620.59H158.36ZM159.93 625.4H162.82V612.57H159.93ZM164.39 625.4H169.2V616.58H164.39ZM169.2 625.4H175.83V620.59H169.2ZM175.83 625.4H178.24V616.58H175.83ZM178.24 625.4H186.67V620.59H178.24ZM186.67 625.4H189.69V616.58H186.67ZM189.69 625.4H193.9V620.59H189.69ZM198 625.4H200.41V620.59H198ZM207.4 625.4H209.45V620.59H207.4ZM211.86 625.4H213.66V620.59H211.86ZM216.07 625.4H220.29V616.58H216.07ZM220.29 625.4H222.7V620.59H220.29ZM222.7 625.4H225.95V608.56H222.7ZM231.73 625.4H234.14V616.58H231.73ZM234.14 625.4H236.55V620.59H234.14ZM240.77 625.4H242.82V620.59H240.77ZM245.59 625.4H247.4V620.59H245.59ZM247.4 625.4H250.41V608.56H247.4ZM250.41 625.4H252.22V616.58H250.41ZM252.22 625.4H254.39V612.57H252.22ZM254.39 625.4H255.83V616.58H254.39ZM255.83 625.4H258.24V608.56H255.83ZM258.24 625.4H260.65V620.59H258.24ZM260.65 625.4H263.06V616.58H260.65ZM263.06 625.4H265.47V620.59H263.06ZM265.47 625.4H267.28V612.57H265.47ZM267.28 625.4H271.49V596.53H267.28ZM271.49 625.4H274.14V612.57H271.49ZM276.92 625.4H278V612.57H276.92ZM278 625.4H281.01V612.57H278ZM300.89 625.4H303.3V620.59H300.89ZM305.11 625.4H307.52V620.59H305.11ZM311.73 625.4H313.9V620.59H311.73ZM313.9 625.4H316.31V616.58H313.9ZM316.31 625.4H318V620.59H316.31ZM318 625.4H320.41V612.57H318ZM320.41 625.4H324.75V616.58H320.41ZM324.75 625.4H327.4V608.56H324.75ZM329.2 625.4H334.02V620.59H329.2ZM338.24 625.4H340.65V616.58H338.24ZM340.65 625.4H343.06V620.59H340.65ZM347.64 625.4H350.05V620.59H347.64ZM355.71 625.4H358V600.54H355.71ZM357.95 625.4H359.16V600.54H357.95ZM359.16 625.4H360.6V596.53H359.16ZM360.6 625.4H363.61V592.52H360.6ZM363.61 625.4H365.42V604.55H363.61Z" fill="#0000ff"/><path d="M40.41 625.4H367.59" stroke="#0000ff" stroke-width="3.0"/><rect x="29" y="591.6" width="350.4" height="34.7" fill="none" stroke="#4d4d4d" stroke-width="1.15"/><path d="M21.2 625.4H29M21.2 617.38H29M21.2 609.36H29M21.2 601.34H29M21.2 593.32H29M41.6 626.3V634.5M153 626.3V634.5M264.4 626.3V634.5M375.8 626.3V634.5" stroke="#4d4d4d" stroke-width="1.15" fill="none"/><text transform="translate(7.6 625.4) rotate(-90)" text-anchor="middle" y="4.2">0</text><text transform="translate(7.6 601.34) rotate(-90)" text-anchor="middle" y="4.2">6</text><text x="41.6" y="654" text-anchor="middle">0</text><text x="153" y="654" text-anchor="middle">50</text><text x="264.4" y="654" text-anchor="middle">100</text><text x="375.8" y="654" text-anchor="middle">150</text><text transform="translate(216.4 616.1) scale(0.92 1)" text-anchor="middle" class="r">8</text></g>
<g><path d="M39.81 709.3H41.86V704.46H39.81ZM41.86 709.3H44.27V700.42H41.86ZM44.27 709.3H45.83V704.46H44.27ZM45.83 709.3H48.6V700.42H45.83ZM48.6 709.3H50.65V704.46H48.6ZM53.06 709.3H54.87V704.46H53.06ZM54.87 709.3H57.52V700.42H54.87ZM57.52 709.3H59.93V704.46H57.52ZM65.71 709.3H68.12V704.46H65.71ZM68.12 709.3H72.34V700.42H68.12ZM74.75 709.3H78.72V704.46H74.75ZM84.75 709.3H87.64V696.38H84.75ZM87.64 709.3H89.81V704.46H87.64ZM109.08 709.3H110.89V704.46H109.08ZM110.89 709.3H113.9V700.42H110.89ZM113.9 709.3H115.71V704.46H113.9ZM115.71 709.3H118V696.38H115.71ZM118 709.3H119.2V696.38H118ZM119.2 709.3H120.41V700.42H119.2ZM120.41 709.3H121.86V700.42H120.41ZM121.86 709.3H124.99V692.34H121.86ZM187.28 709.3H190.05V692.34H187.28ZM193.9 709.3H198V700.42H193.9ZM198 709.3H198.96V700.42H198ZM200.41 709.3H202.82V704.46H200.41ZM206.43 709.3H209.45V692.34H206.43ZM223.9 709.3H226.92V704.46H223.9ZM232.34 709.3H235.35V696.38H232.34ZM237.16 709.3H240.77V704.46H237.16ZM240.77 709.3H244.39V692.34H240.77ZM244.39 709.3H247.4V704.46H244.39ZM247.4 709.3H249.81V696.38H247.4ZM249.81 709.3H252.82V692.34H249.81ZM252.82 709.3H255.23V696.38H252.82ZM257.04 709.3H259.45V700.42H257.04ZM261.25 709.3H263.66V704.46H261.25ZM265.47 709.3H267.88V704.46H265.47ZM271.49 709.3H273.9V704.46H271.49ZM276.92 709.3H278V700.42H276.92ZM278 709.3H280.41V700.42H278ZM284.63 709.3H288.84V704.46H284.63ZM288.84 709.3H291.86V696.38H288.84ZM306.31 709.3H308.72V704.46H306.31ZM308.72 709.3H312.94V696.38H308.72ZM314.75 709.3H317.76V696.38H314.75ZM319.57 709.3H321.37V704.46H319.57ZM321.37 709.3H324.02V700.42H321.37ZM324.02 709.3H326.43V676.18H324.02ZM326.43 709.3H328V692.34H326.43ZM328 709.3H329.81V692.34H328ZM329.81 709.3H331.01V700.42H329.81ZM331.01 709.3H334.63V704.46H331.01ZM334.63 709.3H337.04V688.3H334.63ZM337.04 709.3H340.65V692.34H337.04ZM340.65 709.3H343.66V676.18H340.65ZM343.66 709.3H345.47V704.46H343.66Z" fill="#0000ff"/><path d="M39.81 709.3H347.88" stroke="#0000ff" stroke-width="3.0"/><rect x="29" y="676.1" width="330" height="34.7" fill="none" stroke="#4d4d4d" stroke-width="1.15"/><path d="M21.2 709.3H29M21.2 701.22H29M21.2 693.14H29M21.2 685.06H29M21.2 676.98H29M40.8 710.8V719M84.1 710.8V719M127.4 710.8V719M170.7 710.8V719M214 710.8V719M257.3 710.8V719M300.6 710.8V719M343.9 710.8V719" stroke="#4d4d4d" stroke-width="1.15" fill="none"/><text transform="translate(7.6 709.3) rotate(-90)" text-anchor="middle" y="4.2">0</text><text transform="translate(7.6 685.06) rotate(-90)" text-anchor="middle" y="4.2">6</text><text x="40.8" y="738.5" text-anchor="middle">0</text><text x="84.1" y="738.5" text-anchor="middle">20</text><text x="127.4" y="738.5" text-anchor="middle">40</text><text x="170.7" y="738.5" text-anchor="middle">60</text><text x="214" y="738.5" text-anchor="middle">80</text><text x="257.3" y="738.5" text-anchor="middle">100</text><text x="300.6" y="738.5" text-anchor="middle">120</text><text x="343.9" y="738.5" text-anchor="middle">140</text><text transform="translate(206.1 700.4) scale(0.92 1)" text-anchor="middle" class="r">9</text></g>
<g><path d="M38.81 794.1H41.22V779.38H38.81ZM41.22 794.1H43.02V784.02H41.22ZM45.19 794.1H47.6V770.1H45.19ZM47.6 794.1H49.65V779.38H47.6ZM49.65 794.1H52.42V770.1H49.65ZM52.42 794.1H54.47V774.74H52.42ZM54.47 794.1H56.04V788.66H54.47ZM56.04 794.1H58.69V765.46H56.04ZM58.69 794.1H61.7V788.66H58.69ZM61.7 794.1H64.47V784.02H61.7ZM66.16 794.1H68.57V784.02H66.16ZM68.57 794.1H71.34V779.38H68.57ZM74.95 794.1H77.96V779.38H74.95ZM77.96 794.1H79.77V784.02H77.96ZM81.58 794.1H87.6V788.66H81.58ZM92.42 794.1H96.04V788.66H92.42ZM96.04 794.1H98.45V784.02H96.04ZM100.25 794.1H103.27V774.74H100.25ZM103.27 794.1H105.07V784.02H103.27ZM105.07 794.1H107.48V760.82H105.07ZM107.48 794.1H109.29V788.66H107.48ZM109.29 794.1H111.1V788.66H109.29ZM113.51 794.1H117V784.02H113.51ZM120.01 794.1H122.42V788.66H120.01ZM128.45 794.1H130.25V788.66H128.45ZM130.25 794.1H132.66V784.02H130.25ZM132.66 794.1H135.31V779.38H132.66ZM135.31 794.1H137.72V784.02H135.31ZM137.72 794.1H143.51V788.66H137.72ZM149.53 794.1H151.94V788.66H149.53ZM153.75 794.1H156.16V788.66H153.75ZM166.16 794.1H168.57V788.66H166.16ZM174.83 794.1H183.27V788.66H174.83ZM185.07 794.1H190.49V788.66H185.07ZM192.3 794.1H197V788.66H192.3ZM197 794.1H197.96V788.66H197ZM197.96 794.1H201.58V765.46H197.96ZM201.58 794.1H205.19V774.74H201.58ZM206.88 794.1H209.05V784.02H206.88ZM209.05 794.1H211.46V774.74H209.05ZM211.46 794.1H213.87V779.38H211.46ZM213.87 794.1H215.67V788.66H213.87ZM225.92 794.1H228.57V770.1H225.92ZM228.57 794.1H230.73V784.02H228.57ZM232.54 794.1H234.59V784.02H232.54ZM236.76 794.1H239.41V774.74H236.76ZM245.19 794.1H247.6V788.66H245.19ZM247.6 794.1H250.01V784.02H247.6ZM250.01 794.1H253.63V784.02H250.01ZM253.63 794.1H256.04V774.74H253.63ZM256.04 794.1H258.45V770.1H256.04ZM258.45 794.1H260.86V784.02H258.45ZM260.86 794.1H262.66V784.02H260.86ZM262.66 794.1H265.07V774.74H262.66ZM265.07 794.1H266.88V779.38H265.07ZM266.88 794.1H269.29V788.66H266.88ZM277.05 794.1H278.86V788.66H277.05ZM278.86 794.1H281.87V774.74H278.86ZM289.7 794.1H292.11V765.46H289.7ZM292.11 794.1H294.52V774.74H292.11ZM296.57 794.1H300.54V788.66H296.57ZM300.54 794.1H302.95V784.02H300.54ZM302.95 794.1H308.98V788.66H302.95ZM308.98 794.1H311.39V774.74H308.98ZM311.39 794.1H313.19V788.66H311.39ZM313.19 794.1H315.36V784.02H313.19ZM317.41 794.1H319.82V779.38H317.41ZM321.63 794.1H324.04V788.66H321.63ZM325.84 794.1H327.89V788.66H325.84Z" fill="#0000ff"/><path d="M38.81 794.1H327.89" stroke="#0000ff" stroke-width="3.0"/><rect x="29" y="760" width="309.9" height="35" fill="none" stroke="#4d4d4d" stroke-width="1.15"/><path d="M21.2 794.1H29M21.2 789.46H29M21.2 784.82H29M21.2 780.18H29M21.2 775.54H29M21.2 770.9H29M21.2 766.26H29M21.2 761.62H29M39.5 795V803.2M82.15 795V803.2M124.8 795V803.2M167.45 795V803.2M210.1 795V803.2M252.75 795V803.2M295.4 795V803.2M338.05 795V803.2" stroke="#4d4d4d" stroke-width="1.15" fill="none"/><text transform="translate(7.6 794.1) rotate(-90)" text-anchor="middle" y="4.2">0</text><text transform="translate(7.6 775.54) rotate(-90)" text-anchor="middle" y="4.2">4</text><text x="39.5" y="822.7" text-anchor="middle">0</text><text x="82.15" y="822.7" text-anchor="middle">20</text><text x="124.8" y="822.7" text-anchor="middle">40</text><text x="167.45" y="822.7" text-anchor="middle">60</text><text x="210.1" y="822.7" text-anchor="middle">80</text><text x="252.75" y="822.7" text-anchor="middle">100</text><text x="295.4" y="822.7" text-anchor="middle">120</text><text x="338.05" y="822.7" text-anchor="middle">140</text><text transform="translate(196.2 784.8) scale(0.92 1)" text-anchor="middle" class="r">10</text></g>
<g><path d="M37.81 878.5H41.06V845.5H37.81ZM41.06 878.5H42.02V868.04H41.06ZM42.02 878.5H44.43V851.94H42.02ZM44.43 878.5H45.64V871.26H44.43ZM45.64 878.5H47.45V871.26H45.64ZM47.45 878.5H50.22V874.48H47.45ZM50.22 878.5H52.87V864.82H50.22ZM52.87 878.5H54.67V868.04H52.87ZM54.67 878.5H60.1V871.26H54.67ZM60.1 878.5H61.9V874.48H60.1ZM61.9 878.5H64.92V868.04H61.9ZM64.92 878.5H66.72V871.26H64.92ZM66.72 878.5H68.53V874.48H66.72ZM72.14 878.5H78.41V874.48H72.14ZM91.42 878.5H95.04V868.04H91.42ZM99.86 878.5H102.27V874.48H99.86ZM104.07 878.5H107.08V871.26H104.07ZM107.08 878.5H110.7V868.04H107.08ZM119.01 878.5H122.02V874.48H119.01ZM126.24 878.5H127.81V874.48H126.24ZM127.81 878.5H129.86V871.26H127.81ZM129.86 878.5H131.66V874.48H129.86ZM131.66 878.5H134.07V868.04H131.66ZM149.13 878.5H151.54V874.48H149.13ZM153.95 878.5H155.76V874.48H153.95ZM155.76 878.5H157.57V864.82H155.76ZM157.57 878.5H159.98V874.48H157.57ZM161.18 878.5H166.6V864.82H161.18ZM166.6 878.5H170.22V855.16H166.6ZM170.22 878.5H175.64V864.82H170.22ZM175.64 878.5H177.45V874.48H175.64ZM177.45 878.5H179.86V864.82H177.45ZM179.86 878.5H182.27V871.26H179.86ZM182.27 878.5H185.28V864.82H182.27ZM185.28 878.5H187.08V871.26H185.28ZM187.08 878.5H190.7V861.6H187.08ZM190.7 878.5H193.11V871.26H190.7ZM193.11 878.5H196V874.48H193.11ZM196.02 878.5H198.07V871.26H196.02ZM201.08 878.5H203.49V864.82H201.08ZM207.11 878.5H211.57V874.48H207.11ZM220.96 878.5H226.99V874.48H220.96ZM236.63 878.5H240.84V874.48H236.63ZM240.84 878.5H243.25V864.82H240.84ZM258.92 878.5H260V868.04H258.92ZM260 878.5H263.01V868.04H260ZM263.01 878.5H265.06V874.48H263.01ZM267.47 878.5H272.89V874.48H267.47ZM272.89 878.5H274.1V864.82H272.89ZM274.1 878.5H276.75V861.6H274.1ZM278.67 878.5H280.72V868.04H278.67ZM280.72 878.5H284.94V874.48H280.72ZM284.94 878.5H286.14V871.26H284.94ZM286.14 878.5H288.8V864.82H286.14ZM288.8 878.5H290.96V874.48H288.8ZM292.41 878.5H298.8V868.04H292.41ZM302.05 878.5H306.63V871.26H302.05ZM306.63 878.5H308.43V874.48H306.63Z" fill="#0000ff"/><path d="M37.81 878.5H308.43" stroke="#0000ff" stroke-width="3.0"/><rect x="29" y="844.2" width="289.6" height="34.9" fill="none" stroke="#4d4d4d" stroke-width="1.15"/><path d="M21.2 878.5H29M21.2 872.06H29M21.2 865.62H29M21.2 859.18H29M21.2 852.74H29M21.2 846.3H29M39.2 879.1V887.3M79 879.1V887.3M118.8 879.1V887.3M158.6 879.1V887.3M198.4 879.1V887.3M238.2 879.1V887.3M278 879.1V887.3M317.8 879.1V887.3" stroke="#4d4d4d" stroke-width="1.15" fill="none"/><text transform="translate(7.6 878.5) rotate(-90)" text-anchor="middle" y="4.2">0</text><text transform="translate(7.6 859.18) rotate(-90)" text-anchor="middle" y="4.2">6</text><text x="39.2" y="906.8" text-anchor="middle">0</text><text x="79" y="906.8" text-anchor="middle">20</text><text x="118.8" y="906.8" text-anchor="middle">40</text><text x="158.6" y="906.8" text-anchor="middle">60</text><text x="198.4" y="906.8" text-anchor="middle">80</text><text x="238.2" y="906.8" text-anchor="middle">100</text><text x="278" y="906.8" text-anchor="middle">120</text><text x="317.8" y="906.8" text-anchor="middle">140</text><text transform="translate(185.5 869.1) scale(0.92 1)" text-anchor="middle" class="r">11</text></g>
<g><path d="M47.78 962.3H50.67V955H47.78ZM55.86 962.3H58.63V955H55.86ZM71.16 962.3H73.93V955H71.16ZM76.34 962.3H81.16V955H76.34ZM86.34 962.3H93.81V955H86.34ZM93.81 962.3H96.46V948.5H93.81ZM138.87 962.3H142.24V942H138.87ZM142.24 962.3H144.65V948.5H142.24ZM144.65 962.3H147.54V955H144.65ZM157.9 962.3H160.31V942H157.9ZM160.31 962.3H162.96V935.5H160.31ZM165.37 962.3H170.19V948.5H165.37ZM178.02 962.3H180.8V935.5H178.02ZM182.84 962.3H185.61V955H182.84ZM185.61 962.3H190.67V948.5H185.61ZM200.31 962.3H202V955H200.31ZM202 962.3H203.45V955H202ZM205.61 962.3H210.43V955H205.61ZM213.08 962.3H215.86V955H213.08ZM215.86 962.3H220.67V942H215.86ZM227.9 962.3H231.52V935.5H227.9ZM233.57 962.3H236.94V948.5H233.57ZM253.2 962.3H256.82V955H253.2ZM287.06 962.3H289.83V955H287.06ZM302.24 962.3H304.89V942H302.24ZM314.77 962.3H317.54V948.5H314.77ZM332.36 962.3H335.25V955H332.36ZM340.07 962.3H342.48V955H340.07ZM342.48 962.3H345.61V929H342.48ZM345.61 962.3H348.02V948.5H345.61ZM354.89 962.3H358.14V955H354.89ZM363.45 962.3H365.86V955H363.45ZM368.63 962.3H373.81V955H368.63ZM376.22 962.3H378.63V955H376.22ZM381.52 962.3H383.69V955H381.52ZM383.69 962.3H386.1V942H383.69ZM386.1 962.3H388.75V948.5H386.1ZM396.34 962.3H403.93V955H396.34ZM418.87 962.3H426.46V955H418.87ZM428.87 962.3H431.64V948.5H428.87ZM431.64 962.3H434.29V955H431.64Z" fill="#0000ff"/><path d="M43.2 962.3H439.11" stroke="#0000ff" stroke-width="3.0"/><rect x="29" y="928.9" width="424.7" height="34.8" fill="none" stroke="#4d4d4d" stroke-width="1.15"/><path d="M21.2 962.3H29M21.2 955.8H29M21.2 949.3H29M21.2 942.8H29M21.2 936.3H29M21.2 929.8H29M44.7 963.7V971.9M171.4 963.7V971.9M298.1 963.7V971.9M424.8 963.7V971.9" stroke="#4d4d4d" stroke-width="1.15" fill="none"/><text transform="translate(7.6 962.3) rotate(-90)" text-anchor="middle" y="4.2">0</text><text transform="translate(7.6 942.8) rotate(-90)" text-anchor="middle" y="4.2">3</text><text x="44.7" y="991.4" text-anchor="middle">0</text><text x="171.4" y="991.4" text-anchor="middle">50</text><text x="298.1" y="991.4" text-anchor="middle">100</text><text x="424.8" y="991.4" text-anchor="middle">150</text><text transform="translate(253.8 953.4) scale(0.92 1)" text-anchor="middle" class="r">X</text></g>
<g><path d="M599.27 34.9H600.88V23.45H599.27ZM600.88 34.9H602.12V19.9H600.88ZM602.12 34.9H604.49V16.35H602.12ZM604.49 34.9H605.91V23.45H604.49ZM605.91 34.9H607.81V27H605.91ZM607.81 34.9H609.23V30.55H607.81ZM609.23 34.9H610.37V27H609.23ZM610.37 34.9H612.55V19.9H610.37ZM612.55 34.9H614.45V30.55H612.55ZM614.45 34.9H615.4V23.45H614.45ZM615.4 34.9H617.77V16.35H615.4ZM617.77 34.9H620.62V27H617.77ZM620.62 34.9H623.46V16.35H620.62ZM623.46 34.9H625.36V23.45H623.46ZM627.73 34.9H631.05V27H627.73ZM631.05 34.9H632.95V27H631.05ZM632.95 34.9H634.38V30.55H632.95ZM634.38 34.9H636.75V27H634.38ZM636.75 34.9H639.12V16.35H636.75ZM639.12 34.9H640.54V23.45H639.12ZM640.54 34.9H641.97V30.55H640.54ZM641.97 34.9H643.39V30.55H641.97ZM643.39 34.9H645.1V27H643.39ZM645.1 34.9H647.37V2.15H645.1ZM647.37 34.9H648.61V27H647.37ZM648.61 34.9H650.03V16.35H648.61ZM650.03 34.9H651.45V19.9H650.03ZM651.45 34.9H653.35V23.45H651.45ZM653.35 34.9H654.77V30.55H653.35Z" fill="#0000ff"/><path d="M573.04 34.9H655.72" stroke="#0000ff" stroke-width="3.0"/><rect x="570.4" y="1.5" width="86.9" height="34.5" fill="none" stroke="#4d4d4d" stroke-width="1.15"/><path d="M562.6 34.9H570.4M562.6 27.8H570.4M562.6 20.7H570.4M562.6 13.6H570.4M562.6 6.5H570.4M573.6 36V44.2M589.33 36V44.2M605.05 36V44.2M620.77 36V44.2M636.5 36V44.2M652.23 36V44.2" stroke="#4d4d4d" stroke-width="1.15" fill="none"/><text transform="translate(549 34.9) rotate(-90)" text-anchor="middle" y="4.2">0</text><text transform="translate(549 13.6) rotate(-90)" text-anchor="middle" y="4.2">6</text><text x="573.6" y="63.7" text-anchor="middle">0</text><text x="605.05" y="63.7" text-anchor="middle">20</text><text x="636.5" y="63.7" text-anchor="middle">40</text><text transform="translate(625.8 25.7) scale(0.92 1)" text-anchor="middle" class="r">22</text></g>
<g><path d="M583.17 119.5H585.89V116.17H583.17ZM585.89 119.5H588.6V111.1H585.89ZM588.6 119.5H589.95V116.17H588.6ZM589.95 119.5H592.66V111.1H589.95ZM606.22 119.5H608.93V113.63H606.22ZM608.93 119.5H612V116.17H608.93ZM613.1 119.5H614.91V113.63H613.1ZM614.91 119.5H616.72V116.17H614.91ZM616.72 119.5H618.07V116.17H616.72ZM618.07 119.5H619.43V113.63H618.07ZM619.43 119.5H621.69V111.1H619.43ZM621.69 119.5H623.49V113.63H621.69ZM623.49 119.5H625.3V111.1H623.49ZM625.3 119.5H627.11V113.63H625.3ZM627.11 119.5H628.92V116.17H627.11ZM628.92 119.5H631.17V108.57H628.92ZM631.17 119.5H632.98V108.57H631.17ZM632.98 119.5H634.34V113.63H632.98ZM634.34 119.5H635.69V116.17H634.34ZM635.69 119.5H637.95V100.97H635.69ZM637.95 119.5H639.76V113.63H637.95ZM639.76 119.5H641.57V108.57H639.76ZM641.57 119.5H644.1V106.04H641.57ZM644.1 119.5H645.63V85.77H644.1ZM645.63 119.5H646.99V90.84H645.63ZM646.99 119.5H648.34V93.37H646.99ZM648.34 119.5H649.7V93.37H648.34ZM649.7 119.5H651.05V95.9H649.7ZM651.05 119.5H652.41V98.44H651.05Z" fill="#0000ff"/><path d="M553.36 119.5H653.77" stroke="#0000ff" stroke-width="3.0"/><rect x="550.4" y="85.4" width="106.8" height="34.7" fill="none" stroke="#4d4d4d" stroke-width="1.15"/><path d="M542.6 119.5H550.4M542.6 114.43H550.4M542.6 109.37H550.4M542.6 104.3H550.4M542.6 99.24H550.4M542.6 94.17H550.4M542.6 89.1H550.4M554.6 120.1V128.3M575.12 120.1V128.3M595.65 120.1V128.3M616.18 120.1V128.3M636.7 120.1V128.3" stroke="#4d4d4d" stroke-width="1.15" fill="none"/><text transform="translate(529 119.5) rotate(-90)" text-anchor="middle" y="4.2">0</text><text transform="translate(529 99.24) rotate(-90)" text-anchor="middle" y="4.2">8</text><text x="554.6" y="147.8" text-anchor="middle">0</text><text x="575.12" y="147.8" text-anchor="middle">10</text><text x="616.18" y="147.8" text-anchor="middle">30</text><text transform="translate(615 110) scale(0.92 1)" text-anchor="middle" class="r">21</text></g>
<g><path d="M533.16 203.7H535.66V199.64H533.16ZM535.66 203.7H537.98V183.34H535.66ZM537.98 203.7H539.23V199.64H537.98ZM539.23 203.7H541.64V180.08H539.23ZM542.8 203.7H546.94V196.38H542.8ZM550.31 203.7H552.24V199.64H550.31ZM552.24 203.7H554.65V196.38H552.24ZM554.65 203.7H556.1V199.64H554.65ZM557.54 203.7H560.72V196.38H557.54ZM566.7 203.7H569.59V186.6H566.7ZM569.59 203.7H571.71V189.86H569.59ZM572.96 203.7H575.18V193.12H572.96ZM575.18 203.7H576.34V199.64H575.18ZM576.34 203.7H579.23V186.6H576.34ZM579.23 203.7H580.67V193.12H579.23ZM580.67 203.7H582.12V199.64H580.67ZM589.35 203.7H596V196.38H589.35ZM596.02 203.7H597.37V199.64H596.02ZM597.37 203.7H598.82V196.38H597.37ZM602.67 203.7H605.08V186.6H602.67ZM606.53 203.7H608.94V193.12H606.53ZM608.94 203.7H610.39V199.64H608.94ZM610.39 203.7H612.8V199.64H610.39ZM612.8 203.7H614.24V196.38H612.8ZM614.24 203.7H616.17V186.6H614.24ZM616.17 203.7H620.02V196.38H616.17ZM620.02 203.7H622.92V199.64H620.02ZM622.92 203.7H625.33V186.6H622.92ZM625.33 203.7H626.77V193.12H625.33ZM626.77 203.7H628.22V196.38H626.77ZM629.18 203.7H631.11V196.38H629.18ZM631.11 203.7H632.55V199.64H631.11ZM636.41 203.7H638.82V176.82H636.41ZM638.82 203.7H640.27V199.64H638.82ZM640.27 203.7H642.19V186.6H640.27ZM642.19 203.7H644.12V196.38H642.19ZM644.12 203.7H646.05V199.64H644.12ZM646.05 203.7H647.2V189.86H646.05ZM647.2 203.7H649.71V170.3H647.2ZM649.71 203.7H651.35V196.38H649.71Z" fill="#0000ff"/><path d="M533.16 203.7H653.28" stroke="#0000ff" stroke-width="3.0"/><rect x="530.1" y="169.9" width="127.2" height="34.6" fill="none" stroke="#4d4d4d" stroke-width="1.15"/><path d="M522.3 203.7H530.1M522.3 197.18H530.1M522.3 190.66H530.1M522.3 184.14H530.1M522.3 177.62H530.1M522.3 171.1H530.1M534.6 204.5V212.7M553.4 204.5V212.7M572.2 204.5V212.7M591 204.5V212.7M609.8 204.5V212.7M628.6 204.5V212.7M647.4 204.5V212.7" stroke="#4d4d4d" stroke-width="1.15" fill="none"/><text transform="translate(508.7 203.7) rotate(-90)" text-anchor="middle" y="4.2">0</text><text transform="translate(508.7 184.14) rotate(-90)" text-anchor="middle" y="4.2">6</text><text x="534.6" y="232.2" text-anchor="middle">0</text><text x="572.2" y="232.2" text-anchor="middle">20</text><text x="609.8" y="232.2" text-anchor="middle">40</text><text x="647.4" y="232.2" text-anchor="middle">60</text><text transform="translate(606 194.4) scale(0.92 1)" text-anchor="middle" class="r">20</text></g>
<g><path d="M513.58 288.1H516.01V267.56H513.58ZM516.01 288.1H517.8V270.85H516.01ZM517.8 288.1H519.59V274.14H517.8ZM519.59 288.1H521.28V274.14H519.59ZM521.28 288.1H523.39V277.43H521.28ZM523.39 288.1H525.49V274.14H523.39ZM525.49 288.1H529.92V277.43H525.49ZM529.92 288.1H532.87V260.98H529.92ZM532.87 288.1H537.09V280.72H532.87ZM537.09 288.1H539.2V284.01H537.09ZM539.2 288.1H540.99V284.01H539.2ZM540.99 288.1H543.63V277.43H540.99ZM543.63 288.1H546.26V270.85H543.63ZM546.26 288.1H550.8V284.01H546.26ZM550.8 288.1H553.33V274.14H550.8ZM553.33 288.1H555.22V277.43H553.33ZM555.22 288.1H557.86V280.72H555.22ZM557.86 288.1H560.7V280.72H557.86ZM562.6 288.1H564.71V277.43H562.6ZM566.82 288.1H572.09V274.14H566.82ZM578.42 288.1H582V277.43H578.42ZM582 288.1H583.67V280.72H582ZM583.67 288.1H585.34V284.01H583.67ZM585.34 288.1H588.13V280.72H585.34ZM588.13 288.1H590.36V284.01H588.13ZM590.36 288.1H594.26V277.43H590.36ZM594.26 288.1H597.6V264.27H594.26ZM597.6 288.1H599.83V277.43H597.6ZM599.83 288.1H602.06V257.69H599.83ZM602.06 288.1H604.29V267.56H602.06ZM604.29 288.1H608.75V277.43H604.29ZM608.75 288.1H611.2V280.72H608.75ZM611.2 288.1H613.43V274.14H611.2ZM613.43 288.1H615.43V284.01H613.43ZM615.43 288.1H617.66V280.72H615.43ZM617.66 288.1H620.45V277.43H617.66ZM620.45 288.1H622.68V274.14H620.45ZM622.68 288.1H624.91V277.43H622.68ZM624.91 288.1H627.14V277.43H624.91ZM627.14 288.1H629.92V280.72H627.14ZM629.92 288.1H636.61V277.43H629.92ZM636.61 288.1H638.84V280.72H636.61ZM638.84 288.1H641.07V277.43H638.84ZM641.07 288.1H642.74V284.01H641.07ZM642.74 288.1H646.08V267.56H642.74ZM646.08 288.1H647.75V274.14H646.08ZM647.75 288.1H650.2V254.4H647.75Z" fill="#0000ff"/><path d="M513.58 288.1H652.21" stroke="#0000ff" stroke-width="3.0"/><rect x="510.4" y="254.6" width="146.8" height="34.4" fill="none" stroke="#4d4d4d" stroke-width="1.15"/><path d="M502.6 288.1H510.4M502.6 281.52H510.4M502.6 274.94H510.4M502.6 268.36H510.4M502.6 261.78H510.4M502.6 255.2H510.4M515 289V297.2M538.11 289V297.2M561.22 289V297.2M584.33 289V297.2M607.44 289V297.2M630.55 289V297.2M653.66 289V297.2" stroke="#4d4d4d" stroke-width="1.15" fill="none"/><text transform="translate(489 288.1) rotate(-90)" text-anchor="middle" y="4.2">0</text><text transform="translate(489 268.36) rotate(-90)" text-anchor="middle" y="4.2">6</text><text x="515" y="316.7" text-anchor="middle">0</text><text x="538.11" y="316.7" text-anchor="middle">10</text><text x="584.33" y="316.7" text-anchor="middle">30</text><text x="630.55" y="316.7" text-anchor="middle">50</text><text transform="translate(596.2 278.7) scale(0.92 1)" text-anchor="middle" class="r">19</text></g>
<g><path d="M494.6 372.4H496.65V366.94H494.6ZM500.27 372.4H502.67V362.28H500.27ZM502.67 372.4H504.84V366.94H502.67ZM504.84 372.4H507.01V357.62H504.84ZM507.01 372.4H508.7V362.28H507.01ZM510.87 372.4H512.31V366.94H510.87ZM512.31 372.4H514.72V338.98H512.31ZM514.72 372.4H516.89V362.28H514.72ZM516.89 372.4H518.1V366.94H516.89ZM518.1 372.4H522.92V352.96H518.1ZM522.92 372.4H524.72V362.28H522.92ZM532.31 372.4H534.72V357.62H532.31ZM535.93 372.4H540.39V357.62H535.93ZM542.43 372.4H550.02V366.94H542.43ZM550.02 372.4H554.48V362.28H550.02ZM560.02 372.4H562.43V357.62H560.02ZM562.43 372.4H565.08V366.94H562.43ZM566.05 372.4H568.1V366.94H566.05ZM575.81 372.4H578.58V362.28H575.81ZM578.58 372.4H580.63V366.94H578.58ZM580.63 372.4H583.64V362.28H580.63ZM583.64 372.4H586.65V343.64H583.64ZM586.65 372.4H588.46V357.62H586.65ZM588.46 372.4H590.27V362.28H588.46ZM590.27 372.4H592.67V366.94H590.27ZM599.9 372.4H602.67V357.62H599.9ZM605.33 372.4H608.94V357.62H605.33ZM611.95 372.4H614.36V357.62H611.95ZM614.36 372.4H616.17V366.94H614.36ZM616.17 372.4H617.61V366.94H616.17ZM619.54 372.4H621.59V366.94H619.54ZM624 372.4H626.41V362.28H624ZM630.02 372.4H632.07V366.94H630.02ZM634.24 372.4H636.65V366.94H634.24ZM637.86 372.4H640.27V362.28H637.86ZM641.47 372.4H644.12V348.3H641.47ZM646.05 372.4H647.49V366.94H646.05ZM647.49 372.4H650.51V343.64H647.49Z" fill="#0000ff"/><path d="M494.6 372.4H651.71" stroke="#0000ff" stroke-width="3.0"/><rect x="489" y="338.6" width="168.4" height="34" fill="none" stroke="#4d4d4d" stroke-width="1.15"/><path d="M481.2 372.4H489M481.2 367.74H489M481.2 363.08H489M481.2 358.42H489M481.2 353.76H489M481.2 349.1H489M481.2 344.44H489M481.2 339.78H489M495.8 372.6V380.8M535.62 372.6V380.8M575.44 372.6V380.8M615.26 372.6V380.8M655.08 372.6V380.8" stroke="#4d4d4d" stroke-width="1.15" fill="none"/><text transform="translate(467.6 372.4) rotate(-90)" text-anchor="middle" y="4.2">0</text><text transform="translate(467.6 353.76) rotate(-90)" text-anchor="middle" y="4.2">4</text><text x="495.8" y="400.3" text-anchor="middle">0</text><text x="535.62" y="400.3" text-anchor="middle">20</text><text x="575.44" y="400.3" text-anchor="middle">40</text><text x="615.26" y="400.3" text-anchor="middle">60</text><text x="655.08" y="400.3" text-anchor="middle">80</text><text transform="translate(586 363.1) scale(0.92 1)" text-anchor="middle" class="r">18</text></g>
<g><path d="M474.45 456.7H476.86V445.06H474.45ZM476.86 456.7H479.27V439.64H476.86ZM479.27 456.7H481.67V445.06H479.27ZM483.84 456.7H486.01V445.06H483.84ZM486.01 456.7H487.46V447.77H486.01ZM487.46 456.7H489.87V450.48H487.46ZM489.87 456.7H492.52V442.35H489.87ZM492.52 456.7H494.69V445.06H492.52ZM494.69 456.7H496.49V453.19H494.69ZM496.49 456.7H498.9V447.77H496.49ZM498.9 456.7H500.71V450.48H498.9ZM500.71 456.7H502.88V453.19H500.71ZM504.93 456.7H507.94V450.48H504.93ZM507.94 456.7H510.35V453.19H507.94ZM510.35 456.7H512.76V450.48H510.35ZM512.76 456.7H515.77V453.19H512.76ZM515.77 456.7H518.18V442.35H515.77ZM518.18 456.7H520.59V447.77H518.18ZM520.59 456.7H522.4V453.19H520.59ZM530.83 456.7H533.24V447.77H530.83ZM533.24 456.7H535.65V445.06H533.24ZM535.65 456.7H538.06V450.48H535.65ZM538.06 456.7H541.07V453.19H538.06ZM541.07 456.7H543.48V447.77H541.07ZM543.48 456.7H545.89V453.19H543.48ZM545.89 456.7H548.3V445.06H545.89ZM548.3 456.7H550.71V450.48H548.3ZM550.71 456.7H551.92V453.19H550.71ZM551.92 456.7H553V445.06H551.92ZM553 456.7H555.41V445.06H553ZM555.41 456.7H557.82V447.77H555.41ZM557.82 456.7H560.83V442.35H557.82ZM560.83 456.7H562.64V447.77H560.83ZM562.64 456.7H565.05V442.35H562.64ZM565.05 456.7H569.87V439.64H565.05ZM569.87 456.7H572.28V442.35H569.87ZM572.28 456.7H574.08V447.77H572.28ZM574.08 456.7H575.89V439.64H574.08ZM575.89 456.7H577.7V447.77H575.89ZM577.7 456.7H580.71V439.64H577.7ZM580.71 456.7H583.12V450.48H580.71ZM588.54 456.7H590.95V453.19H588.54ZM595.17 456.7H598.18V447.77H595.17ZM598.18 456.7H599.39V450.48H598.18ZM599.39 456.7H601.8V442.35H599.39ZM601.8 456.7H603.6V447.77H601.8ZM603.6 456.7H606.01V450.48H603.6ZM606.01 456.7H607.82V447.77H606.01ZM607.82 456.7H610.23V447.77H607.82ZM610.23 456.7H612.64V453.19H610.23ZM616.25 456.7H619.27V442.35H616.25ZM619.27 456.7H621.67V445.06H619.27ZM621.67 456.7H624.08V450.48H621.67ZM625.29 456.7H627.94V445.06H625.29ZM627.94 456.7H630.11V447.77H627.94ZM630.11 456.7H633V447.77H630.11ZM632.98 456.7H633.89V447.77H632.98ZM633.89 456.7H636.14V447.77H633.89ZM636.14 456.7H637.95V450.48H636.14ZM637.95 456.7H639.76V453.19H637.95ZM639.76 456.7H642.47V453.19H639.76ZM642.47 456.7H644.91V445.06H642.47ZM644.91 456.7H647.44V423.38H644.91ZM647.44 456.7H648.8V442.35H647.44ZM648.8 456.7H650.15V450.48H648.8ZM650.15 456.7H651.51V450.48H650.15Z" fill="#0000ff"/><path d="M474.45 456.7H652.41" stroke="#0000ff" stroke-width="3.0"/><rect x="468.7" y="423.1" width="188.5" height="34.5" fill="none" stroke="#4d4d4d" stroke-width="1.15"/><path d="M460.9 456.7H468.7M460.9 451.28H468.7M460.9 445.86H468.7M460.9 440.44H468.7M460.9 435.02H468.7M460.9 429.6H468.7M460.9 424.18H468.7M476.1 457.6V465.8M518.98 457.6V465.8M561.86 457.6V465.8M604.74 457.6V465.8M647.62 457.6V465.8" stroke="#4d4d4d" stroke-width="1.15" fill="none"/><text transform="translate(447.3 456.7) rotate(-90)" text-anchor="middle" y="4.2">0</text><text transform="translate(447.3 435.02) rotate(-90)" text-anchor="middle" y="4.2">8</text><text x="476.1" y="485.3" text-anchor="middle">0</text><text x="518.98" y="485.3" text-anchor="middle">20</text><text x="561.86" y="485.3" text-anchor="middle">40</text><text x="604.74" y="485.3" text-anchor="middle">60</text><text x="647.62" y="485.3" text-anchor="middle">80</text><text transform="translate(575.9 447.4) scale(0.92 1)" text-anchor="middle" class="r">17</text></g>
<g><path d="M454.81 541.1H457.58V518.46H454.81ZM457.58 541.1H464.45V514.82H457.58ZM464.45 541.1H466.49V536.66H464.45ZM472.52 541.1H475.29V533.02H472.52ZM475.29 541.1H478.3V536.66H475.29ZM478.3 541.1H480.71V533.02H478.3ZM480.71 541.1H483.12V536.66H480.71ZM485.29 541.1H487.94V522.1H485.29ZM490.11 541.1H491.55V536.66H490.11ZM491.55 541.1H494.57V533.02H491.55ZM494.57 541.1H496.13V536.66H494.57ZM496.13 541.1H498.78V529.38H496.13ZM500.95 541.1H502.4V536.66H500.95ZM502.4 541.1H505.41V525.74H502.4ZM505.41 541.1H508.42V536.66H505.41ZM508.42 541.1H511.43V533.02H508.42ZM511.43 541.1H515.65V536.66H511.43ZM515.65 541.1H517.82V529.38H515.65ZM517.82 541.1H519.87V525.74H517.82ZM519.87 541.1H522.28V507.54H519.87ZM522.28 541.1H524.69V529.38H522.28ZM527.7 541.1H530.71V533.02H527.7ZM555.89 541.1H558.3V536.66H555.89ZM562.52 541.1H564.93V529.38H562.52ZM566.73 541.1H569.14V533.02H566.73ZM569.14 541.1H571.55V529.38H569.14ZM571.55 541.1H574.57V533.02H571.55ZM574.57 541.1H577.58V525.74H574.57ZM577.58 541.1H579.39V533.02H577.58ZM579.39 541.1H581.8V536.66H579.39ZM589.63 541.1H592.64V529.38H589.63ZM596.86 541.1H598.66V533.02H596.86ZM598.66 541.1H601.07V525.74H598.66ZM601.07 541.1H602.88V533.02H601.07ZM605.29 541.1H607.1V536.66H605.29ZM607.1 541.1H610.11V533.02H607.1ZM610.11 541.1H613V529.38H610.11ZM613.01 541.1H614.28V529.38H613.01ZM620.33 541.1H622.14V533.02H620.33ZM622.14 541.1H624.4V525.74H622.14ZM624.4 541.1H627.11V507.54H624.4ZM627.11 541.1H629.1V536.66H627.11ZM630.72 541.1H637.05V533.02H630.72ZM637.05 541.1H639.76V514.82H637.05ZM639.76 541.1H642.02V536.66H639.76ZM642.02 541.1H644.28V533.02H642.02ZM644.28 541.1H646.99V507.54H644.28ZM646.99 541.1H649.25V511.18H646.99Z" fill="#0000ff"/><path d="M454.81 541.1H650.6" stroke="#0000ff" stroke-width="3.0"/><rect x="449" y="507.9" width="208.4" height="34.3" fill="none" stroke="#4d4d4d" stroke-width="1.15"/><path d="M441.2 541.1H449M441.2 533.82H449M441.2 526.54H449M441.2 519.26H449M441.2 511.98H449M455.9 542.2V550.4M498.9 542.2V550.4M541.9 542.2V550.4M584.9 542.2V550.4M627.9 542.2V550.4" stroke="#4d4d4d" stroke-width="1.15" fill="none"/><text transform="translate(427.6 541.1) rotate(-90)" text-anchor="middle" y="4.2">0</text><text transform="translate(427.6 519.26) rotate(-90)" text-anchor="middle" y="4.2">6</text><text x="455.9" y="569.9" text-anchor="middle">0</text><text x="498.9" y="569.9" text-anchor="middle">20</text><text x="541.9" y="569.9" text-anchor="middle">40</text><text x="584.9" y="569.9" text-anchor="middle">60</text><text x="627.9" y="569.9" text-anchor="middle">80</text><text transform="translate(565.9 531.7) scale(0.92 1)" text-anchor="middle" class="r">16</text></g>
<g><path d="M483.61 625.4H485.78V619.22H483.61ZM487.83 625.4H490.6V608.46H487.83ZM490.6 625.4H492.05V619.22H490.6ZM498.07 625.4H499.88V619.22H498.07ZM499.88 625.4H502.89V603.08H499.88ZM504.1 625.4H506.75V619.22H504.1ZM510.72 625.4H514.34V619.22H510.72ZM514.34 625.4H516.75V597.7H514.34ZM516.75 625.4H518.55V619.22H516.75ZM518.55 625.4H521.57V592.32H518.55ZM521.57 625.4H523.37V619.22H521.57ZM523.37 625.4H525.78V603.08H523.37ZM525.78 625.4H528.8V619.22H525.78ZM528.8 625.4H531.2V608.46H528.8ZM531.2 625.4H534.82V619.22H531.2ZM534.82 625.4H539.04V619.22H534.82ZM539.04 625.4H543.25V613.84H539.04ZM543.25 625.4H546.02V592.32H543.25ZM547.47 625.4H551.08V613.84H547.47ZM552.89 625.4H554.7V619.22H552.89ZM554.7 625.4H560V619.22H554.7ZM560 625.4H562.41V613.84H560ZM562.41 625.4H564.82V613.84H562.41ZM566.27 625.4H569.04V597.7H566.27ZM569.04 625.4H570.84V613.84H569.04ZM570.84 625.4H573.25V619.22H570.84ZM574.46 625.4H577.47V608.46H574.46ZM577.47 625.4H579.28V619.22H577.47ZM579.28 625.4H581.45V613.84H579.28ZM581.45 625.4H583.49V608.46H581.45ZM583.49 625.4H585.3V613.84H583.49ZM585.3 625.4H587.95V592.32H585.3ZM589.52 625.4H591.57V603.08H589.52ZM591.57 625.4H593.73V608.46H591.57ZM595.18 625.4H597.95V613.84H595.18ZM597.95 625.4H605.78V619.22H597.95ZM607.95 625.4H610.36V608.46H607.95ZM613.98 625.4H616.63V613.84H613.98ZM620.24 625.4H623.25V597.7H620.24ZM623.25 625.4H624.82V613.84H623.25ZM624.82 625.4H626.87V603.08H624.82ZM626.87 625.4H629.88V619.22H626.87ZM629.88 625.4H634.7V619.22H629.88ZM634.7 625.4H637.11V608.46H634.7ZM638.92 625.4H640V613.84H638.92ZM640.03 625.4H642.02V613.84H640.03ZM642.02 625.4H644.73V597.7H642.02ZM644.73 625.4H646.08V597.7H644.73ZM646.08 625.4H647.89V597.7H646.08Z" fill="#0000ff"/><path d="M436.63 625.4H649.7" stroke="#0000ff" stroke-width="3.0"/><rect x="428.6" y="591.4" width="228.5" height="34.7" fill="none" stroke="#4d4d4d" stroke-width="1.15"/><path d="M420.8 625.4H428.6M420.8 620.02H428.6M420.8 614.64H428.6M420.8 609.26H428.6M420.8 603.88H428.6M420.8 598.5H428.6M420.8 593.12H428.6M436.5 626.1V634.3M478.18 626.1V634.3M519.86 626.1V634.3M561.54 626.1V634.3M603.22 626.1V634.3M644.9 626.1V634.3" stroke="#4d4d4d" stroke-width="1.15" fill="none"/><text transform="translate(407.2 625.4) rotate(-90)" text-anchor="middle" y="4.2">0</text><text transform="translate(407.2 603.88) rotate(-90)" text-anchor="middle" y="4.2">4</text><text x="436.5" y="653.8" text-anchor="middle">0</text><text x="478.18" y="653.8" text-anchor="middle">20</text><text x="519.86" y="653.8" text-anchor="middle">40</text><text x="561.54" y="653.8" text-anchor="middle">60</text><text x="603.22" y="653.8" text-anchor="middle">80</text><text x="644.9" y="653.8" text-anchor="middle">100</text><text transform="translate(555.5 616.1) scale(0.92 1)" text-anchor="middle" class="r">15</text></g>
<g><path d="M459.28 709H461.08V701.78H459.28ZM461.08 709H463.86V698.57H461.08ZM463.86 709H465.3V704.99H463.86ZM465.3 709H467.95V701.78H465.3ZM467.95 709H470.12V704.99H467.95ZM470.12 709H472.29V704.99H470.12ZM482.77 709H485.18V704.99H482.77ZM491.2 709H498.07V704.99H491.2ZM498.07 709H500.24V695.36H498.07ZM500.24 709H502.65V704.99H500.24ZM506.27 709H508.67V704.99H506.27ZM512.89 709H517.71V704.99H512.89ZM520 709H524.22V704.99H520ZM524.22 709H526.02V701.78H524.22ZM526.02 709H529.04V688.94H526.02ZM532.05 709H535.06V704.99H532.05ZM536.87 709H538.67V701.78H536.87ZM538.67 709H541.08V695.36H538.67ZM541.08 709H544.1V701.78H541.08ZM545.9 709H549.52V704.99H545.9ZM549.52 709H551.93V698.57H549.52ZM551.93 709H556.14V701.78H551.93ZM556.14 709H560.96V704.99H556.14ZM562.77 709H564.82V701.78H562.77ZM564.82 709H567.59V688.94H564.82ZM567.59 709H569.4V704.99H567.59ZM569.4 709H571.81V695.36H569.4ZM573.98 709H580.24V701.78H573.98ZM581.45 709H584.1V698.57H581.45ZM584.1 709H589.88V704.99H584.1ZM589.88 709H592.89V698.57H589.88ZM592.89 709H594.7V704.99H592.89ZM597.11 709H600V704.99H597.11ZM599.95 709H603.23V704.99H599.95ZM605.45 709H609.98V701.78H605.45ZM611.9 709H614.51V695.36H611.9ZM614.51 709H616.72V704.99H614.51ZM620.58 709H623.47V692.15H620.58ZM623.47 709H624.92V704.99H623.47ZM624.92 709H627.33V701.78H624.92ZM627.33 709H629.73V704.99H627.33ZM631.66 709H633.78V698.57H631.66ZM633.78 709H636V682.52H633.78ZM636 709H639.86V695.36H636ZM639.86 709H642.27V701.78H639.86ZM642.27 709H644.67V676.1H642.27Z" fill="#0000ff"/><path d="M417.35 709H648.53" stroke="#0000ff" stroke-width="3.0"/><rect x="408.6" y="675.8" width="248.6" height="34.8" fill="none" stroke="#4d4d4d" stroke-width="1.15"/><path d="M400.8 709H408.6M400.8 702.58H408.6M400.8 696.16H408.6M400.8 689.74H408.6M400.8 683.32H408.6M400.8 676.9H408.6M417.1 710.6V718.8M460.2 710.6V718.8M503.3 710.6V718.8M546.4 710.6V718.8M589.5 710.6V718.8M632.6 710.6V718.8" stroke="#4d4d4d" stroke-width="1.15" fill="none"/><text transform="translate(387.2 709) rotate(-90)" text-anchor="middle" y="4.2">0</text><text transform="translate(387.2 689.74) rotate(-90)" text-anchor="middle" y="4.2">6</text><text x="417.1" y="738.3" text-anchor="middle">0</text><text x="460.2" y="738.3" text-anchor="middle">20</text><text x="503.3" y="738.3" text-anchor="middle">40</text><text x="546.4" y="738.3" text-anchor="middle">60</text><text x="589.5" y="738.3" text-anchor="middle">80</text><text x="632.6" y="738.3" text-anchor="middle">100</text><text transform="translate(545.3 700.4) scale(0.92 1)" text-anchor="middle" class="r">14</text></g>
<g><path d="M437.47 793.8H439.88V787.62H437.47ZM439.88 793.8H442.29V782.24H439.88ZM442.29 793.8H444.1V787.62H442.29ZM444.1 793.8H446.75V782.24H444.1ZM448.31 793.8H450.72V776.86H448.31ZM450.72 793.8H453.13V787.62H450.72ZM455.54 793.8H456.75V787.62H455.54ZM456.75 793.8H459.76V782.24H456.75ZM461.57 793.8H463.98V766.1H461.57ZM463.98 793.8H466.99V771.48H463.98ZM466.99 793.8H470V787.62H466.99ZM470 793.8H472.41V787.62H470ZM476.63 793.8H481.45V787.62H476.63ZM485.06 793.8H487.71V760.72H485.06ZM487.71 793.8H491.69V787.62H487.71ZM491.69 793.8H493.49V782.24H491.69ZM493.49 793.8H497.11V771.48H493.49ZM497.11 793.8H498.92V787.62H497.11ZM500 793.8H502.65V771.48H500ZM502.65 793.8H505.42V782.24H502.65ZM507.23 793.8H509.04V787.62H507.23ZM509.04 793.8H511.81V776.86H509.04ZM554.82 793.8H557.23V776.86H554.82ZM557.23 793.8H560.84V782.24H557.23ZM560.84 793.8H565.66V782.24H560.84ZM565.66 793.8H569.88V787.62H565.66ZM576.51 793.8H579.52V787.62H576.51ZM596.27 793.8H600.48V787.62H596.27ZM601.93 793.8H605.3V782.24H601.93ZM605.3 793.8H607.11V787.62H605.3ZM608.92 793.8H611.33V787.62H608.92ZM611.33 793.8H613.73V766.1H611.33ZM613.73 793.8H616.14V787.62H613.73ZM619.76 793.8H622.17V787.62H619.76ZM623.98 793.8H629.16V782.24H623.98ZM637.23 793.8H641.45V787.62H637.23ZM641.45 793.8H643.86V760.72H641.45ZM643.86 793.8H646.51V776.86H643.86Z" fill="#0000ff"/><path d="M397.59 793.8H648.07" stroke="#0000ff" stroke-width="3.0"/><rect x="387.2" y="759.9" width="270.5" height="34.9" fill="none" stroke="#4d4d4d" stroke-width="1.15"/><path d="M379.4 793.8H387.2M379.4 788.42H387.2M379.4 783.04H387.2M379.4 777.66H387.2M379.4 772.28H387.2M379.4 766.9H387.2M379.4 761.52H387.2M397.1 794.8V803M440.72 794.8V803M484.34 794.8V803M527.96 794.8V803M571.58 794.8V803M615.2 794.8V803" stroke="#4d4d4d" stroke-width="1.15" fill="none"/><text transform="translate(365.8 793.8) rotate(-90)" text-anchor="middle" y="4.2">0</text><text transform="translate(365.8 772.28) rotate(-90)" text-anchor="middle" y="4.2">4</text><text x="397.1" y="822.5" text-anchor="middle">0</text><text x="440.72" y="822.5" text-anchor="middle">20</text><text x="484.34" y="822.5" text-anchor="middle">40</text><text x="527.96" y="822.5" text-anchor="middle">60</text><text x="571.58" y="822.5" text-anchor="middle">80</text><text x="615.2" y="822.5" text-anchor="middle">100</text><text transform="translate(535.2 784.8) scale(0.92 1)" text-anchor="middle" class="r">13</text></g>
<g><path d="M376.81 878.1H379.22V865.54H376.81ZM379.22 878.1H381.02V871.42H379.22ZM381.02 878.1H383.67V865.54H381.02ZM383.67 878.1H384.88V874.36H383.67ZM384.88 878.1H388.86V868.48H384.88ZM388.86 878.1H393.67V871.42H388.86ZM393.67 878.1H394.88V874.36H393.67ZM394.88 878.1H396.69V868.48H394.88ZM396.69 878.1H399.7V865.54H396.69ZM399.7 878.1H407.53V871.42H399.7ZM407.53 878.1H409.34V874.36H407.53ZM414.76 878.1H417.77V871.42H414.76ZM421.39 878.1H423.8V874.36H421.39ZM425.6 878.1H428.01V874.36H425.6ZM429.46 878.1H433.8V868.48H429.46ZM433.8 878.1H438.86V874.36H433.8ZM438.86 878.1H441.87V868.48H438.86ZM441.87 878.1H443.67V874.36H441.87ZM443.67 878.1H446.08V874.36H443.67ZM456.81 878.1H463.43V874.36H456.81ZM468.25 878.1H470.06V874.36H468.25ZM470.06 878.1H471.87V868.48H470.06ZM471.87 878.1H473.67V871.42H471.87ZM473.67 878.1H475.72V868.48H473.67ZM475.72 878.1H477.89V862.6H475.72ZM477.89 878.1H480.3V868.48H477.89ZM482.11 878.1H483.92V862.6H482.11ZM483.92 878.1H486.08V856.72H483.92ZM486.08 878.1H488.49V844.96H486.08ZM489.94 878.1H492.35V865.54H489.94ZM492.35 878.1H494.16V871.42H492.35ZM494.16 878.1H498.37V871.42H494.16ZM501.99 878.1H509.82V874.36H501.99ZM509.82 878.1H512.59V868.48H509.82ZM512.59 878.1H516.45V874.36H512.59ZM516.45 878.1H518.25V871.42H516.45ZM518.25 878.1H520.66V865.54H518.25ZM520.66 878.1H522.47V871.42H520.66ZM522.47 878.1H524.64V871.42H522.47ZM527.29 878.1H529.7V874.36H527.29ZM529.7 878.1H532.11V868.48H529.7ZM532.11 878.1H535V874.36H532.11ZM538.61 878.1H540.78V874.36H538.61ZM548.49 878.1H550.66V874.36H548.49ZM554.04 878.1H556.69V871.42H554.04ZM556.69 878.1H559.1V865.54H556.69ZM559.1 878.1H562.47V874.36H559.1ZM562.47 878.1H564.88V871.42H562.47ZM564.88 878.1H569.94V874.36H564.88ZM569.94 878.1H572.95V871.42H569.94ZM574.76 878.1H576.93V874.36H574.76ZM586.81 878.1H590.42V871.42H586.81ZM590.42 878.1H593.43V868.48H590.42ZM593.43 878.1H595.84V874.36H593.43ZM595.84 878.1H598.25V871.42H595.84ZM598.25 878.1H604.88V868.48H598.25ZM607.05 878.1H610.3V871.42H607.05ZM610.3 878.1H613.31V865.54H610.3ZM613.31 878.1H615V871.42H613.31ZM614.99 878.1H617.01V871.42H614.99ZM618.94 878.1H620.87V871.42H618.94ZM620.87 878.1H622.51V874.36H620.87ZM622.51 878.1H625.11V862.6H622.51ZM625.11 878.1H627.04V871.42H625.11ZM627.04 878.1H629.73V859.66H627.04ZM629.73 878.1H631.18V874.36H629.73ZM633.11 878.1H634.55V874.36H633.11ZM634.55 878.1H637.45V871.42H634.55ZM639.37 878.1H643.23V874.36H639.37ZM643.23 878.1H645.16V865.54H643.23ZM645.16 878.1H648.05V862.6H645.16Z" fill="#0000ff"/><path d="M376.81 878.1H649.01" stroke="#0000ff" stroke-width="3.0"/><rect x="367.4" y="844.2" width="289.8" height="34.9" fill="none" stroke="#4d4d4d" stroke-width="1.15"/><path d="M359.6 878.1H367.4M359.6 872.22H367.4M359.6 866.34H367.4M359.6 860.46H367.4M359.6 854.58H367.4M359.6 848.7H367.4M377.4 879.1V887.3M417.68 879.1V887.3M457.96 879.1V887.3M498.24 879.1V887.3M538.52 879.1V887.3M578.8 879.1V887.3M619.08 879.1V887.3" stroke="#4d4d4d" stroke-width="1.15" fill="none"/><text transform="translate(346 878.1) rotate(-90)" text-anchor="middle" y="4.2">0</text><text transform="translate(346 860.46) rotate(-90)" text-anchor="middle" y="4.2">6</text><text x="377.4" y="906.8" text-anchor="middle">0</text><text x="417.68" y="906.8" text-anchor="middle">20</text><text x="457.96" y="906.8" text-anchor="middle">40</text><text x="498.24" y="906.8" text-anchor="middle">60</text><text x="538.52" y="906.8" text-anchor="middle">80</text><text x="578.8" y="906.8" text-anchor="middle">100</text><text x="619.08" y="906.8" text-anchor="middle">120</text><text transform="translate(525.6 869.1) scale(0.92 1)" text-anchor="middle" class="r">12</text></g>
<g><path d="M512.3 962.5H514.5V939.9H512.3ZM522.2 962.5H524.5V950.8H522.2ZM524.5 962.5H527.2V929H524.5ZM527.2 962.5H529.5V950.8H527.2ZM558.5 962.5H560.7V939.9H558.5Z" fill="#0000ff"/><path d="M508.2 962.5H653.5" stroke="#0000ff" stroke-width="3.0"/><rect x="503.6" y="929.3" width="152.1" height="34.3" fill="none" stroke="#4d4d4d" stroke-width="1.15"/><path d="M495.8 962.5H503.6M495.8 957.05H503.6M495.8 951.6H503.6M495.8 946.15H503.6M495.8 940.7H503.6M495.8 935.25H503.6M495.8 929.8H503.6M508.2 963.6V971.8M532.4 963.6V971.8M556.6 963.6V971.8M580.8 963.6V971.8M605 963.6V971.8M629.2 963.6V971.8M653.4 963.6V971.8" stroke="#4d4d4d" stroke-width="1.15" fill="none"/><text transform="translate(482.2 962.5) rotate(-90)" text-anchor="middle" y="4.2">0.0</text><text transform="translate(482.2 929.8) rotate(-90)" text-anchor="middle" y="4.2">3.0</text><text x="508.2" y="991.3" text-anchor="middle">0</text><text x="532.4" y="991.3" text-anchor="middle">10</text><text x="556.6" y="991.3" text-anchor="middle">20</text><text x="580.8" y="991.3" text-anchor="middle">30</text><text x="605" y="991.3" text-anchor="middle">40</text><text x="629.2" y="991.3" text-anchor="middle">50</text><text x="653.4" y="991.3" text-anchor="middle">60</text><text transform="translate(592.1 953.4) scale(0.92 1)" text-anchor="middle" class="r">Y</text></g>
</g>
</svg>
</body></html>
